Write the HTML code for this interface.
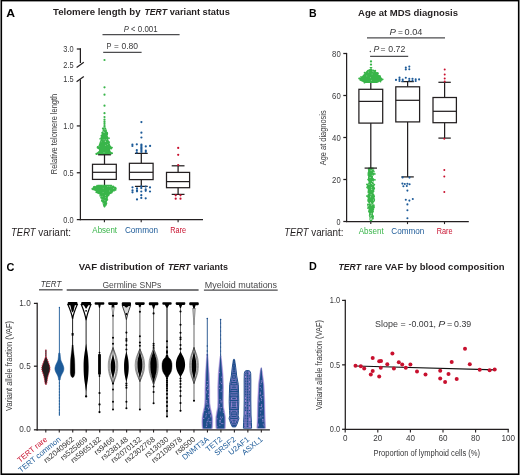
<!DOCTYPE html>
<html><head><meta charset="utf-8"><style>
html,body{margin:0;padding:0;background:#fff;overflow:hidden;}
svg{display:block;font-family:"Liberation Sans", sans-serif;will-change:transform;}
</style></head><body>
<svg width="520" height="476" viewBox="0 0 520 476">
<rect width="520" height="476" fill="#fff"/>
<rect x="1.3" y="0.6" width="517.4" height="473.6" fill="none" stroke="#000" stroke-width="1.6"/>
<text x="6.20" y="16.80" font-size="11" fill="#000" font-weight="bold" textLength="8.80" lengthAdjust="spacingAndGlyphs" >A</text>
<text x="53.00" y="15.40" font-size="9.4" fill="#231f20" font-weight="bold" textLength="87.60" lengthAdjust="spacingAndGlyphs" >Telomere length by</text>
<text x="144.40" y="15.40" font-size="9.4" fill="#231f20" font-weight="bold" font-style="italic" textLength="22.60" lengthAdjust="spacingAndGlyphs" >TERT</text>
<text x="169.70" y="15.40" font-size="9.4" fill="#231f20" font-weight="bold" textLength="60.10" lengthAdjust="spacingAndGlyphs" >variant status</text>
<line x1="102.50" y1="34.60" x2="179.60" y2="34.60" stroke="#4d4d4f" stroke-width="1.3" />
<text x="123.80" y="32.10" font-size="8.2" fill="#38383a" font-style="italic" textLength="5.10" lengthAdjust="spacingAndGlyphs" >P</text>
<text x="130.90" y="32.10" font-size="8.2" fill="#38383a" textLength="4.40" lengthAdjust="spacingAndGlyphs" >&lt;</text>
<text x="137.80" y="32.10" font-size="8.2" fill="#38383a" textLength="19.80" lengthAdjust="spacingAndGlyphs" >0.001</text>
<line x1="103.20" y1="52.40" x2="141.60" y2="52.40" stroke="#4d4d4f" stroke-width="1.3" />
<text x="106.50" y="48.90" font-size="8.2" fill="#38383a" textLength="5.00" lengthAdjust="spacingAndGlyphs" >P</text>
<text x="114.00" y="48.90" font-size="8.2" fill="#38383a" textLength="4.80" lengthAdjust="spacingAndGlyphs" >=</text>
<text x="121.40" y="48.90" font-size="8.2" fill="#38383a" textLength="16.60" lengthAdjust="spacingAndGlyphs" >0.80</text>
<line x1="80.40" y1="48.40" x2="80.40" y2="63.00" stroke="#231f20" stroke-width="1.25" />
<line x1="76.80" y1="49.00" x2="81.00" y2="49.00" stroke="#231f20" stroke-width="1.25" />
<line x1="76.60" y1="67.40" x2="83.80" y2="62.20" stroke="#231f20" stroke-width="1.25" />
<line x1="76.60" y1="81.70" x2="83.80" y2="76.60" stroke="#231f20" stroke-width="1.25" />
<line x1="80.40" y1="79.40" x2="80.40" y2="220.20" stroke="#231f20" stroke-width="1.25" />
<line x1="76.80" y1="125.93" x2="80.40" y2="125.93" stroke="#231f20" stroke-width="1.25" />
<line x1="76.80" y1="172.76" x2="80.40" y2="172.76" stroke="#231f20" stroke-width="1.25" />
<line x1="76.80" y1="219.60" x2="80.40" y2="219.60" stroke="#231f20" stroke-width="1.25" />
<text x="73.60" y="52.00" font-size="8.8" text-anchor="end" fill="#38383a" textLength="10.30" lengthAdjust="spacingAndGlyphs" >3.0</text>
<text x="73.60" y="67.70" font-size="8.8" text-anchor="end" fill="#38383a" textLength="10.30" lengthAdjust="spacingAndGlyphs" >2.5</text>
<text x="73.60" y="82.20" font-size="8.8" text-anchor="end" fill="#38383a" textLength="10.30" lengthAdjust="spacingAndGlyphs" >1.5</text>
<text x="73.60" y="128.93" font-size="8.8" text-anchor="end" fill="#38383a" textLength="10.30" lengthAdjust="spacingAndGlyphs" >1.0</text>
<text x="73.60" y="175.76" font-size="8.8" text-anchor="end" fill="#38383a" textLength="10.30" lengthAdjust="spacingAndGlyphs" >0.5</text>
<text x="73.60" y="222.60" font-size="8.8" text-anchor="end" fill="#38383a" textLength="10.30" lengthAdjust="spacingAndGlyphs" >0.0</text>
<line x1="79.80" y1="219.60" x2="203.00" y2="219.60" stroke="#231f20" stroke-width="1.25" />
<line x1="104.40" y1="219.60" x2="104.40" y2="222.20" stroke="#231f20" stroke-width="1.1" />
<line x1="141.20" y1="219.60" x2="141.20" y2="222.20" stroke="#231f20" stroke-width="1.1" />
<line x1="178.10" y1="219.60" x2="178.10" y2="222.20" stroke="#231f20" stroke-width="1.1" />
<text x="104.70" y="232.50" font-size="8.6" text-anchor="middle" fill="#39b54a" textLength="24.70" lengthAdjust="spacingAndGlyphs" >Absent</text>
<text x="141.50" y="232.50" font-size="8.6" text-anchor="middle" fill="#1c5a98" textLength="33.20" lengthAdjust="spacingAndGlyphs" >Common</text>
<text x="178.20" y="232.50" font-size="8.6" text-anchor="middle" fill="#c8102e" textLength="15.90" lengthAdjust="spacingAndGlyphs" >Rare</text>
<text x="11.10" y="235.50" font-size="10.8" fill="#231f20" font-style="italic" textLength="24.50" lengthAdjust="spacingAndGlyphs" >TERT</text>
<text x="38.20" y="235.50" font-size="10.8" fill="#231f20" textLength="32.90" lengthAdjust="spacingAndGlyphs" >variant:</text>
<text x="56.80" y="134.00" font-size="8.8" text-anchor="middle" fill="#38383a" textLength="80.30" lengthAdjust="spacingAndGlyphs" transform="rotate(-90 56.80 134.00)" >Relative telomere length</text>
<circle cx="104.50" cy="60.00" r="1.1" fill="#39b54a" />
<circle cx="104.50" cy="87.30" r="1.1" fill="#39b54a" />
<circle cx="104.50" cy="94.70" r="1.1" fill="#39b54a" />
<circle cx="104.50" cy="105.70" r="1.1" fill="#39b54a" />
<circle cx="104.50" cy="113.20" r="1.1" fill="#39b54a" />
<circle cx="104.50" cy="117.00" r="1.1" fill="#39b54a" />
<circle cx="104.50" cy="119.50" r="1.1" fill="#39b54a" />
<circle cx="104.50" cy="121.40" r="1.1" fill="#39b54a" />
<circle cx="104.50" cy="123.20" r="1.1" fill="#39b54a" />
<circle cx="104.50" cy="125.00" r="1.1" fill="#39b54a" />
<circle cx="104.50" cy="126.60" r="1.1" fill="#39b54a" />
<path d="M103.60,127.20 L102.70,128.40 L102.60,130.50 L102.30,132.00 L101.60,134.00 L101.30,136.00 L100.40,137.80 L100.70,139.50 L99.90,141.60 L99.30,143.50 L98.60,145.40 L96.90,147.20 L97.50,148.60 L98.90,149.60 L99.10,150.80 L97.30,152.20 L96.20,153.30 L96.90,154.30 L100.50,154.90 L108.50,154.90 L112.10,154.30 L112.80,153.30 L111.70,152.20 L109.90,150.80 L110.10,149.60 L111.50,148.60 L112.10,147.20 L110.40,145.40 L109.70,143.50 L109.10,141.60 L108.30,139.50 L108.60,137.80 L107.70,136.00 L107.40,134.00 L106.70,132.00 L106.40,130.50 L106.30,128.40 L105.40,127.20 Z" fill="#39b54a" />
<circle cx="105.95" cy="130.31" r="0.85" fill="#39b54a" />
<circle cx="102.71" cy="128.40" r="0.85" fill="#39b54a" />
<circle cx="97.61" cy="146.91" r="0.85" fill="#39b54a" />
<circle cx="97.57" cy="147.72" r="0.85" fill="#39b54a" />
<circle cx="109.22" cy="142.04" r="0.85" fill="#39b54a" />
<circle cx="102.46" cy="132.88" r="0.85" fill="#39b54a" />
<circle cx="111.30" cy="148.54" r="0.85" fill="#39b54a" />
<circle cx="106.82" cy="132.90" r="0.85" fill="#39b54a" />
<circle cx="96.25" cy="153.66" r="0.85" fill="#39b54a" />
<circle cx="100.12" cy="138.73" r="0.85" fill="#39b54a" />
<circle cx="109.51" cy="150.43" r="0.85" fill="#39b54a" />
<circle cx="105.99" cy="131.29" r="0.85" fill="#39b54a" />
<circle cx="112.06" cy="147.56" r="0.85" fill="#39b54a" />
<circle cx="107.34" cy="133.25" r="0.85" fill="#39b54a" />
<circle cx="102.17" cy="132.57" r="0.85" fill="#39b54a" />
<circle cx="107.24" cy="134.50" r="0.85" fill="#39b54a" />
<circle cx="108.99" cy="138.17" r="0.85" fill="#39b54a" />
<circle cx="96.59" cy="154.25" r="0.85" fill="#39b54a" />
<circle cx="101.33" cy="135.68" r="0.85" fill="#39b54a" />
<circle cx="112.13" cy="153.13" r="0.85" fill="#39b54a" />
<circle cx="107.05" cy="132.54" r="0.85" fill="#39b54a" />
<circle cx="104.87" cy="139.73" r="0.45" fill="#fff" opacity="0.6"/>
<circle cx="104.02" cy="152.80" r="0.45" fill="#fff" opacity="0.6"/>
<circle cx="105.14" cy="141.27" r="0.45" fill="#fff" opacity="0.6"/>
<circle cx="104.54" cy="132.32" r="0.45" fill="#fff" opacity="0.6"/>
<circle cx="107.33" cy="144.65" r="0.45" fill="#fff" opacity="0.6"/>
<circle cx="104.08" cy="129.81" r="0.45" fill="#fff" opacity="0.6"/>
<circle cx="105.16" cy="129.71" r="0.45" fill="#fff" opacity="0.6"/>
<circle cx="98.95" cy="146.41" r="0.45" fill="#fff" opacity="0.6"/>
<circle cx="110.23" cy="154.41" r="0.45" fill="#fff" opacity="0.6"/>
<circle cx="105.67" cy="145.31" r="0.45" fill="#fff" opacity="0.6"/>
<circle cx="103.23" cy="131.56" r="0.45" fill="#fff" opacity="0.6"/>
<circle cx="101.09" cy="141.84" r="0.45" fill="#fff" opacity="0.6"/>
<circle cx="103.69" cy="132.47" r="0.45" fill="#fff" opacity="0.6"/>
<circle cx="104.45" cy="128.03" r="0.45" fill="#fff" opacity="0.6"/>
<circle cx="106.57" cy="139.40" r="0.45" fill="#fff" opacity="0.6"/>
<circle cx="105.56" cy="141.58" r="0.45" fill="#fff" opacity="0.6"/>
<circle cx="105.67" cy="141.04" r="0.45" fill="#fff" opacity="0.6"/>
<circle cx="103.11" cy="139.87" r="0.45" fill="#fff" opacity="0.6"/>
<line x1="104.50" y1="154.80" x2="104.50" y2="164.30" stroke="#231f20" stroke-width="1.25" />
<line x1="104.50" y1="179.40" x2="104.50" y2="185.60" stroke="#231f20" stroke-width="1.25" />
<line x1="98.10" y1="154.80" x2="110.90" y2="154.80" stroke="#231f20" stroke-width="1.25" />
<line x1="98.10" y1="185.60" x2="110.90" y2="185.60" stroke="#231f20" stroke-width="1.25" />
<rect x="92.50" y="164.30" width="23.80" height="15.10" fill="#fff" stroke="#231f20" stroke-width="1.25"/>
<line x1="92.50" y1="172.30" x2="116.30" y2="172.30" stroke="#231f20" stroke-width="1.25" />
<path d="M97.80,184.80 L97.10,185.80 L92.90,187.00 L92.20,188.60 L92.90,190.00 L95.30,191.00 L96.10,192.00 L96.60,193.20 L99.50,194.40 L100.30,195.60 L101.10,197.00 L101.20,199.00 L101.90,201.00 L102.50,203.00 L103.00,205.20 L103.50,206.80 L104.10,207.40 L104.90,207.40 L105.50,206.80 L106.00,205.20 L106.50,203.00 L107.10,201.00 L107.80,199.00 L107.90,197.00 L108.70,195.60 L109.50,194.40 L112.40,193.20 L112.90,192.00 L113.70,191.00 L116.10,190.00 L116.80,188.60 L116.10,187.00 L111.90,185.80 L111.20,184.80 Z" fill="#39b54a" />
<circle cx="94.92" cy="186.55" r="0.85" fill="#39b54a" />
<circle cx="101.81" cy="200.58" r="0.85" fill="#39b54a" />
<circle cx="102.17" cy="201.08" r="0.85" fill="#39b54a" />
<circle cx="96.24" cy="192.27" r="0.85" fill="#39b54a" />
<circle cx="106.17" cy="204.73" r="0.85" fill="#39b54a" />
<circle cx="101.13" cy="197.06" r="0.85" fill="#39b54a" />
<circle cx="100.08" cy="195.77" r="0.85" fill="#39b54a" />
<circle cx="92.81" cy="189.36" r="0.85" fill="#39b54a" />
<circle cx="97.04" cy="185.59" r="0.85" fill="#39b54a" />
<circle cx="108.74" cy="194.72" r="0.85" fill="#39b54a" />
<circle cx="111.45" cy="185.66" r="0.85" fill="#39b54a" />
<circle cx="108.43" cy="195.38" r="0.85" fill="#39b54a" />
<circle cx="106.48" cy="203.20" r="0.85" fill="#39b54a" />
<circle cx="101.09" cy="197.81" r="0.85" fill="#39b54a" />
<circle cx="115.60" cy="189.98" r="0.85" fill="#39b54a" />
<circle cx="107.40" cy="199.78" r="0.85" fill="#39b54a" />
<circle cx="113.32" cy="186.37" r="0.85" fill="#39b54a" />
<circle cx="92.16" cy="188.87" r="0.85" fill="#39b54a" />
<circle cx="93.86" cy="186.85" r="0.85" fill="#39b54a" />
<circle cx="114.04" cy="190.67" r="0.85" fill="#39b54a" />
<circle cx="105.59" cy="195.53" r="0.45" fill="#fff" opacity="0.6"/>
<circle cx="102.93" cy="199.86" r="0.45" fill="#fff" opacity="0.6"/>
<circle cx="102.98" cy="185.05" r="0.45" fill="#fff" opacity="0.6"/>
<circle cx="109.72" cy="190.99" r="0.45" fill="#fff" opacity="0.6"/>
<circle cx="104.91" cy="200.41" r="0.45" fill="#fff" opacity="0.6"/>
<circle cx="105.33" cy="197.42" r="0.45" fill="#fff" opacity="0.6"/>
<circle cx="103.15" cy="188.08" r="0.45" fill="#fff" opacity="0.6"/>
<circle cx="113.79" cy="188.47" r="0.45" fill="#fff" opacity="0.6"/>
<circle cx="109.44" cy="186.13" r="0.45" fill="#fff" opacity="0.6"/>
<circle cx="107.87" cy="186.49" r="0.45" fill="#fff" opacity="0.6"/>
<circle cx="103.08" cy="192.42" r="0.45" fill="#fff" opacity="0.6"/>
<circle cx="103.53" cy="203.84" r="0.45" fill="#fff" opacity="0.6"/>
<circle cx="111.06" cy="186.17" r="0.45" fill="#fff" opacity="0.6"/>
<circle cx="102.05" cy="196.30" r="0.45" fill="#fff" opacity="0.6"/>
<line x1="141.30" y1="153.40" x2="141.30" y2="163.30" stroke="#231f20" stroke-width="1.25" />
<line x1="141.30" y1="179.60" x2="141.30" y2="186.40" stroke="#231f20" stroke-width="1.25" />
<line x1="134.90" y1="153.40" x2="147.70" y2="153.40" stroke="#231f20" stroke-width="1.25" />
<line x1="134.90" y1="186.40" x2="147.70" y2="186.40" stroke="#231f20" stroke-width="1.25" />
<rect x="129.40" y="163.30" width="23.70" height="16.30" fill="#fff" stroke="#231f20" stroke-width="1.25"/>
<line x1="129.40" y1="172.30" x2="153.10" y2="172.30" stroke="#231f20" stroke-width="1.25" />
<line x1="178.10" y1="165.80" x2="178.10" y2="172.40" stroke="#231f20" stroke-width="1.25" />
<line x1="178.10" y1="187.70" x2="178.10" y2="194.40" stroke="#231f20" stroke-width="1.25" />
<line x1="171.70" y1="165.80" x2="184.50" y2="165.80" stroke="#231f20" stroke-width="1.25" />
<line x1="171.70" y1="194.40" x2="184.50" y2="194.40" stroke="#231f20" stroke-width="1.25" />
<rect x="166.50" y="172.40" width="23.10" height="15.30" fill="#fff" stroke="#231f20" stroke-width="1.25"/>
<line x1="166.50" y1="181.60" x2="189.60" y2="181.60" stroke="#231f20" stroke-width="1.25" />
<circle cx="141.40" cy="122.10" r="1.1" fill="#1c5a98" />
<circle cx="141.40" cy="132.70" r="1.1" fill="#1c5a98" />
<circle cx="141.40" cy="137.50" r="1.1" fill="#1c5a98" />
<circle cx="132.40" cy="144.50" r="1.1" fill="#1c5a98" />
<circle cx="132.40" cy="146.00" r="1.1" fill="#1c5a98" />
<circle cx="136.80" cy="144.30" r="1.1" fill="#1c5a98" />
<circle cx="141.40" cy="144.50" r="1.1" fill="#1c5a98" />
<circle cx="141.40" cy="145.70" r="1.1" fill="#1c5a98" />
<circle cx="141.40" cy="147.00" r="1.1" fill="#1c5a98" />
<circle cx="141.40" cy="148.10" r="1.1" fill="#1c5a98" />
<circle cx="141.40" cy="149.20" r="1.1" fill="#1c5a98" />
<circle cx="141.40" cy="150.50" r="1.1" fill="#1c5a98" />
<circle cx="141.40" cy="151.90" r="1.1" fill="#1c5a98" />
<circle cx="136.80" cy="150.20" r="1.1" fill="#1c5a98" />
<circle cx="136.80" cy="152.40" r="1.1" fill="#1c5a98" />
<circle cx="145.80" cy="146.40" r="1.1" fill="#1c5a98" />
<circle cx="145.80" cy="150.50" r="1.1" fill="#1c5a98" />
<circle cx="145.80" cy="151.90" r="1.1" fill="#1c5a98" />
<circle cx="150.10" cy="145.90" r="1.1" fill="#1c5a98" />
<circle cx="132.50" cy="187.30" r="1.1" fill="#1c5a98" />
<circle cx="132.50" cy="190.40" r="1.1" fill="#1c5a98" />
<circle cx="132.50" cy="192.30" r="1.1" fill="#1c5a98" />
<circle cx="137.00" cy="188.40" r="1.1" fill="#1c5a98" />
<circle cx="137.00" cy="190.40" r="1.1" fill="#1c5a98" />
<circle cx="137.00" cy="191.30" r="1.1" fill="#1c5a98" />
<circle cx="141.30" cy="186.40" r="1.1" fill="#1c5a98" />
<circle cx="141.30" cy="188.10" r="1.1" fill="#1c5a98" />
<circle cx="141.30" cy="191.50" r="1.1" fill="#1c5a98" />
<circle cx="141.30" cy="195.20" r="1.1" fill="#1c5a98" />
<circle cx="141.30" cy="197.90" r="1.1" fill="#1c5a98" />
<circle cx="137.00" cy="199.40" r="1.1" fill="#1c5a98" />
<circle cx="145.70" cy="186.60" r="1.1" fill="#1c5a98" />
<circle cx="145.70" cy="189.40" r="1.1" fill="#1c5a98" />
<circle cx="145.70" cy="190.80" r="1.1" fill="#1c5a98" />
<circle cx="145.70" cy="198.30" r="1.1" fill="#1c5a98" />
<circle cx="150.00" cy="187.40" r="1.1" fill="#1c5a98" />
<circle cx="150.00" cy="191.50" r="1.1" fill="#1c5a98" />
<circle cx="178.20" cy="147.90" r="1.1" fill="#c8102e" />
<circle cx="178.20" cy="154.80" r="1.1" fill="#c8102e" />
<circle cx="178.20" cy="165.00" r="1.1" fill="#c8102e" />
<circle cx="175.70" cy="195.30" r="1.1" fill="#c8102e" />
<circle cx="180.50" cy="195.30" r="1.1" fill="#c8102e" />
<circle cx="175.70" cy="198.70" r="1.1" fill="#c8102e" />
<circle cx="180.50" cy="198.70" r="1.1" fill="#c8102e" />
<text x="309.00" y="16.70" font-size="11" fill="#000" font-weight="bold" textLength="7.60" lengthAdjust="spacingAndGlyphs" >B</text>
<text x="358.00" y="15.50" font-size="9.4" fill="#231f20" font-weight="bold" textLength="100.00" lengthAdjust="spacingAndGlyphs" >Age at MDS diagnosis</text>
<line x1="367.00" y1="37.90" x2="445.00" y2="37.90" stroke="#4d4d4f" stroke-width="1.3" />
<text x="389.50" y="34.70" font-size="8.2" fill="#38383a" font-style="italic" textLength="6.40" lengthAdjust="spacingAndGlyphs" >P</text>
<text x="398.00" y="34.70" font-size="8.2" fill="#38383a" textLength="4.90" lengthAdjust="spacingAndGlyphs" >=</text>
<text x="404.60" y="34.70" font-size="8.2" fill="#38383a" textLength="17.80" lengthAdjust="spacingAndGlyphs" >0.04</text>
<line x1="370.10" y1="56.30" x2="408.20" y2="56.30" stroke="#4d4d4f" stroke-width="1.3" />
<text x="373.40" y="52.00" font-size="8.2" fill="#38383a" font-style="italic" textLength="5.80" lengthAdjust="spacingAndGlyphs" >P</text>
<text x="380.60" y="52.00" font-size="8.2" fill="#38383a" textLength="5.00" lengthAdjust="spacingAndGlyphs" >=</text>
<text x="388.30" y="52.00" font-size="8.2" fill="#38383a" textLength="17.00" lengthAdjust="spacingAndGlyphs" >0.72</text>
<circle cx="370.30" cy="51.50" r="0.65" fill="#38383a" />
<line x1="346.60" y1="52.90" x2="346.60" y2="222.10" stroke="#231f20" stroke-width="1.25" />
<line x1="343.30" y1="53.50" x2="346.60" y2="53.50" stroke="#231f20" stroke-width="1.25" />
<text x="340.70" y="56.50" font-size="8.8" text-anchor="end" fill="#38383a" textLength="8.60" lengthAdjust="spacingAndGlyphs" >80</text>
<line x1="343.30" y1="95.50" x2="346.60" y2="95.50" stroke="#231f20" stroke-width="1.25" />
<text x="340.70" y="98.50" font-size="8.8" text-anchor="end" fill="#38383a" textLength="8.60" lengthAdjust="spacingAndGlyphs" >60</text>
<line x1="343.30" y1="137.50" x2="346.60" y2="137.50" stroke="#231f20" stroke-width="1.25" />
<text x="340.70" y="140.50" font-size="8.8" text-anchor="end" fill="#38383a" textLength="8.60" lengthAdjust="spacingAndGlyphs" >40</text>
<line x1="343.30" y1="179.50" x2="346.60" y2="179.50" stroke="#231f20" stroke-width="1.25" />
<text x="340.70" y="182.50" font-size="8.8" text-anchor="end" fill="#38383a" textLength="8.60" lengthAdjust="spacingAndGlyphs" >20</text>
<line x1="343.30" y1="221.50" x2="346.60" y2="221.50" stroke="#231f20" stroke-width="1.25" />
<text x="340.40" y="224.50" font-size="8.8" text-anchor="end" fill="#38383a" textLength="4.00" lengthAdjust="spacingAndGlyphs" >0</text>
<line x1="346.00" y1="221.50" x2="468.80" y2="221.50" stroke="#231f20" stroke-width="1.25" />
<line x1="370.80" y1="221.50" x2="370.80" y2="224.10" stroke="#231f20" stroke-width="1.1" />
<line x1="407.50" y1="221.50" x2="407.50" y2="224.10" stroke="#231f20" stroke-width="1.1" />
<line x1="444.50" y1="221.50" x2="444.50" y2="224.10" stroke="#231f20" stroke-width="1.1" />
<text x="371.20" y="233.50" font-size="8.6" text-anchor="middle" fill="#39b54a" textLength="25.00" lengthAdjust="spacingAndGlyphs" >Absent</text>
<text x="407.80" y="233.50" font-size="8.6" text-anchor="middle" fill="#1c5a98" textLength="33.00" lengthAdjust="spacingAndGlyphs" >Common</text>
<text x="444.60" y="233.50" font-size="8.6" text-anchor="middle" fill="#c8102e" textLength="15.80" lengthAdjust="spacingAndGlyphs" >Rare</text>
<text x="284.30" y="235.50" font-size="10.8" fill="#231f20" font-style="italic" textLength="24.30" lengthAdjust="spacingAndGlyphs" >TERT</text>
<text x="311.20" y="235.50" font-size="10.8" fill="#231f20" textLength="32.40" lengthAdjust="spacingAndGlyphs" >variant:</text>
<text x="325.60" y="137.80" font-size="8.8" text-anchor="middle" fill="#38383a" textLength="54.80" lengthAdjust="spacingAndGlyphs" transform="rotate(-90 325.60 137.80)" >Age at diagnosis</text>
<path d="M368.51,167.60 L367.74,169.30 L368.18,171.00 L367.59,172.70 L367.54,174.40 L368.94,176.10 L369.07,177.80 L367.01,179.50 L368.45,181.20 L368.51,182.90 L366.61,184.60 L367.92,186.30 L367.01,188.00 L367.91,189.70 L367.50,191.40 L368.72,193.10 L367.51,194.80 L366.93,196.50 L367.79,198.20 L367.25,199.90 L367.42,201.60 L368.94,203.30 L367.20,205.00 L367.62,206.70 L368.60,209.50 L368.00,211.50 L369.20,213.50 L368.80,215.50 L369.50,217.50 L369.40,219.50 L370.00,221.30 L372.00,221.30 L372.60,219.50 L372.50,217.50 L373.20,215.50 L372.80,213.50 L374.00,211.50 L373.40,209.50 L374.38,206.70 L374.80,205.00 L373.06,203.30 L374.58,201.60 L374.75,199.90 L374.21,198.20 L375.07,196.50 L374.49,194.80 L373.28,193.10 L374.50,191.40 L374.09,189.70 L374.99,188.00 L374.08,186.30 L375.39,184.60 L373.49,182.90 L373.55,181.20 L374.99,179.50 L372.93,177.80 L373.06,176.10 L374.46,174.40 L374.41,172.70 L373.82,171.00 L374.26,169.30 L373.49,167.60 Z" fill="#39b54a" />
<circle cx="366.77" cy="196.00" r="0.85" fill="#39b54a" />
<circle cx="372.88" cy="215.86" r="0.85" fill="#39b54a" />
<circle cx="373.00" cy="218.55" r="0.85" fill="#39b54a" />
<circle cx="368.12" cy="185.92" r="0.85" fill="#39b54a" />
<circle cx="367.62" cy="186.24" r="0.85" fill="#39b54a" />
<circle cx="367.80" cy="208.02" r="0.85" fill="#39b54a" />
<circle cx="367.04" cy="187.43" r="0.85" fill="#39b54a" />
<circle cx="372.23" cy="217.74" r="0.85" fill="#39b54a" />
<circle cx="366.88" cy="184.45" r="0.85" fill="#39b54a" />
<circle cx="368.99" cy="177.22" r="0.85" fill="#39b54a" />
<circle cx="374.31" cy="188.65" r="0.85" fill="#39b54a" />
<circle cx="367.85" cy="204.33" r="0.85" fill="#39b54a" />
<circle cx="373.70" cy="207.80" r="0.85" fill="#39b54a" />
<circle cx="374.85" cy="173.88" r="0.85" fill="#39b54a" />
<circle cx="368.71" cy="178.22" r="0.85" fill="#39b54a" />
<circle cx="373.37" cy="209.30" r="0.85" fill="#39b54a" />
<circle cx="372.77" cy="216.33" r="0.85" fill="#39b54a" />
<circle cx="368.34" cy="192.40" r="0.85" fill="#39b54a" />
<circle cx="368.41" cy="175.13" r="0.85" fill="#39b54a" />
<circle cx="373.89" cy="171.28" r="0.85" fill="#39b54a" />
<circle cx="374.31" cy="198.99" r="0.85" fill="#39b54a" />
<circle cx="374.96" cy="179.81" r="0.85" fill="#39b54a" />
<circle cx="373.17" cy="216.90" r="0.85" fill="#39b54a" />
<circle cx="374.18" cy="200.33" r="0.85" fill="#39b54a" />
<circle cx="374.12" cy="207.02" r="0.85" fill="#39b54a" />
<circle cx="368.78" cy="176.91" r="0.85" fill="#39b54a" />
<circle cx="370.44" cy="219.06" r="0.5" fill="#fff" opacity="0.7"/>
<circle cx="373.26" cy="168.87" r="0.5" fill="#fff" opacity="0.7"/>
<circle cx="370.12" cy="177.49" r="0.5" fill="#fff" opacity="0.7"/>
<circle cx="370.41" cy="202.58" r="0.5" fill="#fff" opacity="0.7"/>
<circle cx="370.26" cy="215.37" r="0.5" fill="#fff" opacity="0.7"/>
<circle cx="370.72" cy="219.12" r="0.5" fill="#fff" opacity="0.7"/>
<circle cx="373.55" cy="199.88" r="0.5" fill="#fff" opacity="0.7"/>
<circle cx="373.02" cy="204.40" r="0.5" fill="#fff" opacity="0.7"/>
<circle cx="368.43" cy="205.63" r="0.5" fill="#fff" opacity="0.7"/>
<circle cx="371.23" cy="214.93" r="0.5" fill="#fff" opacity="0.7"/>
<circle cx="369.00" cy="184.28" r="0.5" fill="#fff" opacity="0.7"/>
<circle cx="371.19" cy="213.23" r="0.5" fill="#fff" opacity="0.7"/>
<circle cx="371.40" cy="217.97" r="0.5" fill="#fff" opacity="0.7"/>
<circle cx="371.10" cy="219.22" r="0.5" fill="#fff" opacity="0.7"/>
<circle cx="371.67" cy="205.10" r="0.5" fill="#fff" opacity="0.7"/>
<circle cx="372.59" cy="181.48" r="0.5" fill="#fff" opacity="0.7"/>
<circle cx="372.88" cy="184.38" r="0.5" fill="#fff" opacity="0.7"/>
<circle cx="371.23" cy="218.86" r="0.5" fill="#fff" opacity="0.7"/>
<circle cx="372.28" cy="175.24" r="0.5" fill="#fff" opacity="0.7"/>
<circle cx="370.11" cy="203.44" r="0.5" fill="#fff" opacity="0.7"/>
<circle cx="371.14" cy="170.24" r="0.5" fill="#fff" opacity="0.7"/>
<circle cx="373.08" cy="169.33" r="0.5" fill="#fff" opacity="0.7"/>
<circle cx="371.09" cy="194.79" r="0.5" fill="#fff" opacity="0.7"/>
<circle cx="371.76" cy="189.59" r="0.5" fill="#fff" opacity="0.7"/>
<circle cx="370.64" cy="216.81" r="0.5" fill="#fff" opacity="0.7"/>
<circle cx="371.50" cy="187.67" r="0.5" fill="#fff" opacity="0.7"/>
<circle cx="371.47" cy="183.57" r="0.5" fill="#fff" opacity="0.7"/>
<circle cx="370.58" cy="196.77" r="0.5" fill="#fff" opacity="0.7"/>
<circle cx="371.10" cy="203.75" r="0.5" fill="#fff" opacity="0.7"/>
<circle cx="373.47" cy="172.33" r="0.5" fill="#fff" opacity="0.7"/>
<line x1="370.80" y1="82.00" x2="370.80" y2="89.30" stroke="#231f20" stroke-width="1.25" />
<line x1="370.80" y1="123.10" x2="370.80" y2="168.10" stroke="#231f20" stroke-width="1.25" />
<line x1="364.60" y1="82.00" x2="377.00" y2="82.00" stroke="#231f20" stroke-width="1.25" />
<line x1="364.60" y1="168.10" x2="377.00" y2="168.10" stroke="#231f20" stroke-width="1.25" />
<rect x="358.90" y="89.30" width="23.80" height="33.80" fill="#fff" stroke="#231f20" stroke-width="1.25"/>
<line x1="358.90" y1="101.40" x2="382.70" y2="101.40" stroke="#231f20" stroke-width="1.25" />
<circle cx="371.00" cy="61.40" r="1.15" fill="#39b54a" />
<circle cx="371.00" cy="64.60" r="1.15" fill="#39b54a" />
<path d="M369.4,66.9 L372.6,66.9 L371.0,69.2 Z" fill="#39b54a"/>
<path d="M370.20,68.80 L368.80,69.40 L367.40,70.00 L366.50,71.00 L365.50,72.10 L364.40,73.50 L363.30,74.80 L362.20,76.00 L360.60,77.50 L359.40,78.40 L360.20,78.90 L359.00,79.60 L359.60,80.50 L361.20,81.20 L362.40,81.80 L363.80,82.40 L365.00,82.90 L377.00,82.90 L378.20,82.40 L379.60,81.80 L380.80,81.20 L382.40,80.50 L383.00,79.60 L381.80,78.90 L382.60,78.40 L381.40,77.50 L379.80,76.00 L378.70,74.80 L377.60,73.50 L376.50,72.10 L375.50,71.00 L374.60,70.00 L373.20,69.40 L371.80,68.80 Z" fill="#39b54a" />
<circle cx="361.00" cy="76.84" r="0.85" fill="#39b54a" />
<circle cx="364.54" cy="72.71" r="0.85" fill="#39b54a" />
<circle cx="380.54" cy="81.56" r="0.85" fill="#39b54a" />
<circle cx="379.78" cy="76.25" r="0.85" fill="#39b54a" />
<circle cx="359.82" cy="78.29" r="0.85" fill="#39b54a" />
<circle cx="377.72" cy="73.16" r="0.85" fill="#39b54a" />
<circle cx="382.74" cy="79.28" r="0.85" fill="#39b54a" />
<circle cx="377.03" cy="72.75" r="0.85" fill="#39b54a" />
<circle cx="359.06" cy="78.41" r="0.85" fill="#39b54a" />
<circle cx="377.94" cy="73.30" r="0.85" fill="#39b54a" />
<circle cx="364.45" cy="82.77" r="0.85" fill="#39b54a" />
<circle cx="375.33" cy="70.54" r="0.85" fill="#39b54a" />
<circle cx="379.24" cy="76.03" r="0.85" fill="#39b54a" />
<circle cx="380.02" cy="76.20" r="0.85" fill="#39b54a" />
<circle cx="372.45" cy="71.13" r="0.45" fill="#fff" opacity="0.6"/>
<circle cx="370.58" cy="77.75" r="0.45" fill="#fff" opacity="0.6"/>
<circle cx="373.62" cy="71.85" r="0.45" fill="#fff" opacity="0.6"/>
<circle cx="371.27" cy="80.19" r="0.45" fill="#fff" opacity="0.6"/>
<circle cx="366.81" cy="75.92" r="0.45" fill="#fff" opacity="0.6"/>
<circle cx="372.07" cy="74.03" r="0.45" fill="#fff" opacity="0.6"/>
<circle cx="372.34" cy="69.78" r="0.45" fill="#fff" opacity="0.6"/>
<circle cx="368.50" cy="72.07" r="0.45" fill="#fff" opacity="0.6"/>
<circle cx="372.39" cy="69.40" r="0.45" fill="#fff" opacity="0.6"/>
<line x1="407.60" y1="81.60" x2="407.60" y2="86.80" stroke="#231f20" stroke-width="1.25" />
<line x1="407.60" y1="121.90" x2="407.60" y2="176.90" stroke="#231f20" stroke-width="1.25" />
<line x1="401.40" y1="81.60" x2="413.80" y2="81.60" stroke="#231f20" stroke-width="1.25" />
<line x1="401.40" y1="176.90" x2="413.80" y2="176.90" stroke="#231f20" stroke-width="1.25" />
<rect x="395.80" y="86.80" width="23.80" height="35.10" fill="#fff" stroke="#231f20" stroke-width="1.25"/>
<line x1="395.80" y1="100.30" x2="419.60" y2="100.30" stroke="#231f20" stroke-width="1.25" />
<line x1="444.60" y1="82.30" x2="444.60" y2="97.50" stroke="#231f20" stroke-width="1.25" />
<line x1="444.60" y1="122.70" x2="444.60" y2="138.10" stroke="#231f20" stroke-width="1.25" />
<line x1="438.40" y1="82.30" x2="450.80" y2="82.30" stroke="#231f20" stroke-width="1.25" />
<line x1="438.40" y1="138.10" x2="450.80" y2="138.10" stroke="#231f20" stroke-width="1.25" />
<rect x="433.00" y="97.50" width="23.40" height="25.20" fill="#fff" stroke="#231f20" stroke-width="1.25"/>
<line x1="433.00" y1="111.30" x2="456.40" y2="111.30" stroke="#231f20" stroke-width="1.25" />
<circle cx="405.80" cy="67.50" r="1.05" fill="#1c5a98" />
<circle cx="405.80" cy="69.40" r="1.05" fill="#1c5a98" />
<circle cx="409.30" cy="66.60" r="1.05" fill="#1c5a98" />
<circle cx="409.30" cy="69.30" r="1.05" fill="#1c5a98" />
<circle cx="396.00" cy="79.90" r="1.05" fill="#1c5a98" />
<circle cx="399.50" cy="77.60" r="1.05" fill="#1c5a98" />
<circle cx="399.50" cy="79.30" r="1.05" fill="#1c5a98" />
<circle cx="399.50" cy="81.00" r="1.05" fill="#1c5a98" />
<circle cx="402.70" cy="79.60" r="1.05" fill="#1c5a98" />
<circle cx="402.70" cy="81.00" r="1.05" fill="#1c5a98" />
<circle cx="405.80" cy="77.70" r="1.05" fill="#1c5a98" />
<circle cx="409.30" cy="78.70" r="1.05" fill="#1c5a98" />
<circle cx="409.30" cy="80.50" r="1.05" fill="#1c5a98" />
<circle cx="412.50" cy="78.70" r="1.05" fill="#1c5a98" />
<circle cx="412.50" cy="80.50" r="1.05" fill="#1c5a98" />
<circle cx="415.70" cy="79.30" r="1.05" fill="#1c5a98" />
<circle cx="415.70" cy="81.00" r="1.05" fill="#1c5a98" />
<circle cx="419.10" cy="79.40" r="1.05" fill="#1c5a98" />
<circle cx="402.60" cy="177.40" r="1.05" fill="#1c5a98" />
<circle cx="409.50" cy="177.60" r="1.05" fill="#1c5a98" />
<circle cx="402.40" cy="183.60" r="1.05" fill="#1c5a98" />
<circle cx="404.80" cy="184.00" r="1.05" fill="#1c5a98" />
<circle cx="407.40" cy="183.80" r="1.05" fill="#1c5a98" />
<circle cx="409.60" cy="184.20" r="1.05" fill="#1c5a98" />
<circle cx="403.40" cy="186.20" r="1.05" fill="#1c5a98" />
<circle cx="406.80" cy="186.00" r="1.05" fill="#1c5a98" />
<circle cx="407.40" cy="190.60" r="1.05" fill="#1c5a98" />
<circle cx="405.80" cy="199.80" r="1.05" fill="#1c5a98" />
<circle cx="409.40" cy="200.60" r="1.05" fill="#1c5a98" />
<circle cx="412.80" cy="199.00" r="1.05" fill="#1c5a98" />
<circle cx="407.40" cy="204.40" r="1.05" fill="#1c5a98" />
<circle cx="407.40" cy="210.30" r="1.05" fill="#1c5a98" />
<circle cx="407.40" cy="218.20" r="1.05" fill="#1c5a98" />
<circle cx="444.70" cy="69.60" r="1.0" fill="#c8102e" />
<circle cx="444.70" cy="74.60" r="1.0" fill="#c8102e" />
<circle cx="444.70" cy="78.60" r="1.0" fill="#c8102e" />
<circle cx="444.70" cy="81.40" r="1.0" fill="#c8102e" />
<circle cx="444.30" cy="138.80" r="1.0" fill="#c8102e" />
<circle cx="444.30" cy="170.00" r="1.0" fill="#c8102e" />
<circle cx="444.30" cy="176.40" r="1.0" fill="#c8102e" />
<circle cx="444.30" cy="191.90" r="1.0" fill="#c8102e" />
<text x="6.60" y="270.60" font-size="11" fill="#000" font-weight="bold" textLength="7.90" lengthAdjust="spacingAndGlyphs" >C</text>
<text x="78.70" y="270.00" font-size="9.4" fill="#231f20" font-weight="bold" textLength="85.50" lengthAdjust="spacingAndGlyphs" >VAF distribution of</text>
<text x="167.90" y="270.00" font-size="9.4" fill="#231f20" font-weight="bold" font-style="italic" textLength="22.50" lengthAdjust="spacingAndGlyphs" >TERT</text>
<text x="193.50" y="270.00" font-size="9.4" fill="#231f20" font-weight="bold" textLength="34.40" lengthAdjust="spacingAndGlyphs" >variants</text>
<text x="40.75" y="287.20" font-size="8.6" fill="#38383a" font-style="italic" textLength="20.50" lengthAdjust="spacingAndGlyphs" >TERT</text>
<line x1="39.00" y1="289.80" x2="62.60" y2="289.80" stroke="#4d4d4f" stroke-width="1.3" />
<text x="102.40" y="287.60" font-size="8.6" fill="#4a4a4c" textLength="58.90" lengthAdjust="spacingAndGlyphs" >Germline SNPs</text>
<line x1="66.70" y1="290.00" x2="198.60" y2="290.00" stroke="#4d4d4f" stroke-width="1.3" />
<text x="204.80" y="287.80" font-size="8.6" fill="#4a4a4c" textLength="72.30" lengthAdjust="spacingAndGlyphs" >Myeloid mutations</text>
<line x1="203.90" y1="290.20" x2="277.70" y2="290.20" stroke="#4d4d4f" stroke-width="1.3" />
<line x1="37.20" y1="302.80" x2="37.20" y2="430.40" stroke="#231f20" stroke-width="1.25" />
<line x1="33.90" y1="303.40" x2="37.20" y2="303.40" stroke="#231f20" stroke-width="1.25" />
<text x="30.70" y="306.40" font-size="8.8" text-anchor="end" fill="#38383a" textLength="11.40" lengthAdjust="spacingAndGlyphs" >1.0</text>
<line x1="33.90" y1="366.20" x2="37.20" y2="366.20" stroke="#231f20" stroke-width="1.25" />
<text x="30.70" y="369.20" font-size="8.8" text-anchor="end" fill="#38383a" textLength="11.40" lengthAdjust="spacingAndGlyphs" >0.5</text>
<line x1="33.90" y1="429.80" x2="37.20" y2="429.80" stroke="#231f20" stroke-width="1.25" />
<text x="30.70" y="432.00" font-size="8.8" text-anchor="end" fill="#38383a" textLength="11.40" lengthAdjust="spacingAndGlyphs" >0.0</text>
<line x1="36.60" y1="429.80" x2="269.90" y2="429.80" stroke="#231f20" stroke-width="1.25" />
<line x1="45.80" y1="429.80" x2="45.80" y2="432.60" stroke="#231f20" stroke-width="1.1" />
<line x1="59.27" y1="429.80" x2="59.27" y2="432.60" stroke="#231f20" stroke-width="1.1" />
<line x1="72.74" y1="429.80" x2="72.74" y2="432.60" stroke="#231f20" stroke-width="1.1" />
<line x1="86.21" y1="429.80" x2="86.21" y2="432.60" stroke="#231f20" stroke-width="1.1" />
<line x1="99.68" y1="429.80" x2="99.68" y2="432.60" stroke="#231f20" stroke-width="1.1" />
<line x1="113.15" y1="429.80" x2="113.15" y2="432.60" stroke="#231f20" stroke-width="1.1" />
<line x1="126.62" y1="429.80" x2="126.62" y2="432.60" stroke="#231f20" stroke-width="1.1" />
<line x1="140.09" y1="429.80" x2="140.09" y2="432.60" stroke="#231f20" stroke-width="1.1" />
<line x1="153.56" y1="429.80" x2="153.56" y2="432.60" stroke="#231f20" stroke-width="1.1" />
<line x1="167.03" y1="429.80" x2="167.03" y2="432.60" stroke="#231f20" stroke-width="1.1" />
<line x1="180.50" y1="429.80" x2="180.50" y2="432.60" stroke="#231f20" stroke-width="1.1" />
<line x1="193.97" y1="429.80" x2="193.97" y2="432.60" stroke="#231f20" stroke-width="1.1" />
<line x1="207.44" y1="429.80" x2="207.44" y2="432.60" stroke="#231f20" stroke-width="1.1" />
<line x1="220.91" y1="429.80" x2="220.91" y2="432.60" stroke="#231f20" stroke-width="1.1" />
<line x1="234.38" y1="429.80" x2="234.38" y2="432.60" stroke="#231f20" stroke-width="1.1" />
<line x1="247.85" y1="429.80" x2="247.85" y2="432.60" stroke="#231f20" stroke-width="1.1" />
<line x1="261.32" y1="429.80" x2="261.32" y2="432.60" stroke="#231f20" stroke-width="1.1" />
<text x="12.40" y="365.90" font-size="8.8" text-anchor="middle" fill="#38383a" textLength="90.00" lengthAdjust="spacingAndGlyphs" transform="rotate(-90 12.40 365.90)" >Variant allele fraction (VAF)</text>
<text x="47.80" y="440.30" font-size="7.75" text-anchor="end" fill="#c8102e" transform="rotate(-39 47.80 440.30)" >TERT rare</text>
<text x="61.27" y="440.30" font-size="7.75" text-anchor="end" fill="#1c5a98" transform="rotate(-39 61.27 440.30)" >TERT common</text>
<text x="74.74" y="440.30" font-size="7.75" text-anchor="end" fill="#333333" transform="rotate(-39 74.74 440.30)" >rs2040962</text>
<text x="88.21" y="440.30" font-size="7.75" text-anchor="end" fill="#333333" transform="rotate(-39 88.21 440.30)" >rs525869</text>
<text x="101.68" y="440.30" font-size="7.75" text-anchor="end" fill="#333333" transform="rotate(-39 101.68 440.30)" >rs5965182</text>
<text x="115.15" y="440.30" font-size="7.75" text-anchor="end" fill="#333333" transform="rotate(-39 115.15 440.30)" >rs9466</text>
<text x="128.62" y="440.30" font-size="7.75" text-anchor="end" fill="#333333" transform="rotate(-39 128.62 440.30)" >rs238148</text>
<text x="142.09" y="440.30" font-size="7.75" text-anchor="end" fill="#333333" transform="rotate(-39 142.09 440.30)" >rs2070132</text>
<text x="155.56" y="440.30" font-size="7.75" text-anchor="end" fill="#333333" transform="rotate(-39 155.56 440.30)" >rs2302768</text>
<text x="169.03" y="440.30" font-size="7.75" text-anchor="end" fill="#333333" transform="rotate(-39 169.03 440.30)" >rs13030</text>
<text x="182.50" y="440.30" font-size="7.75" text-anchor="end" fill="#333333" transform="rotate(-39 182.50 440.30)" >rs2108978</text>
<text x="195.97" y="440.30" font-size="7.75" text-anchor="end" fill="#333333" transform="rotate(-39 195.97 440.30)" >rs8500</text>
<text x="209.44" y="440.30" font-size="7.75" text-anchor="end" fill="#1c5a98" transform="rotate(-39 209.44 440.30)" >DNMT3A</text>
<text x="222.91" y="440.30" font-size="7.75" text-anchor="end" fill="#1c5a98" transform="rotate(-39 222.91 440.30)" >TET2</text>
<text x="236.38" y="440.30" font-size="7.75" text-anchor="end" fill="#1c5a98" transform="rotate(-39 236.38 440.30)" >SRSF2</text>
<text x="249.85" y="440.30" font-size="7.75" text-anchor="end" fill="#1c5a98" transform="rotate(-39 249.85 440.30)" >U2AF1</text>
<text x="263.32" y="440.30" font-size="7.75" text-anchor="end" fill="#1c5a98" transform="rotate(-39 263.32 440.30)" >ASXL1</text>
<line x1="45.90" y1="349.80" x2="45.90" y2="359.00" stroke="#231f20" stroke-width="1.0" />
<path d="M45.20,357.50 L44.70,359.00 L43.90,361.00 L43.20,363.00 L42.40,365.00 L41.90,367.00 L41.80,369.00 L42.10,371.00 L42.80,373.00 L43.50,375.00 L44.00,377.00 L44.40,379.00 L44.70,381.00 L45.00,383.00 L45.40,384.40 L46.40,384.40 L46.80,383.00 L47.10,381.00 L47.40,379.00 L47.80,377.00 L48.30,375.00 L49.00,373.00 L49.70,371.00 L50.00,369.00 L49.90,367.00 L49.40,365.00 L48.60,363.00 L47.90,361.00 L47.10,359.00 L46.60,357.50 Z" fill="#231f20" stroke="#c8102e" stroke-width="0.9" stroke-dasharray="1.2 0.8" stroke-linejoin="round"/>
<circle cx="45.90" cy="350.20" r="0.6" fill="#c8102e" />
<circle cx="45.90" cy="352.20" r="0.6" fill="#c8102e" />
<circle cx="45.90" cy="354.20" r="0.6" fill="#c8102e" />
<circle cx="45.90" cy="356.20" r="0.6" fill="#c8102e" />
<circle cx="45.90" cy="351.20" r="0.45" fill="#231f20" />
<circle cx="45.90" cy="353.20" r="0.45" fill="#231f20" />
<circle cx="45.90" cy="355.20" r="0.45" fill="#231f20" />
<line x1="59.40" y1="307.30" x2="59.40" y2="415.20" stroke="#1c5a98" stroke-width="0.9" />
<path d="M58.80,353.00 L58.40,357.00 L58.00,360.00 L57.20,362.00 L56.20,364.00 L55.40,366.00 L54.90,368.00 L55.00,370.00 L55.70,372.00 L56.80,374.00 L57.80,376.00 L58.40,378.00 L58.70,380.00 L60.10,380.00 L60.40,378.00 L61.00,376.00 L62.00,374.00 L63.10,372.00 L63.80,370.00 L63.90,368.00 L63.40,366.00 L62.60,364.00 L61.60,362.00 L60.80,360.00 L60.40,357.00 L60.00,353.00 Z" fill="#1c5a98" stroke="#1c5a98" stroke-width="0.5" stroke-linejoin="round"/>
<circle cx="59.40" cy="307.50" r="0.65" fill="#1c5a98" />
<circle cx="59.40" cy="355.00" r="0.65" fill="#1c5a98" />
<circle cx="59.40" cy="383.00" r="0.65" fill="#1c5a98" />
<circle cx="59.40" cy="386.00" r="0.65" fill="#1c5a98" />
<circle cx="59.40" cy="389.00" r="0.65" fill="#1c5a98" />
<circle cx="59.40" cy="392.00" r="0.65" fill="#1c5a98" />
<circle cx="59.40" cy="395.00" r="0.65" fill="#1c5a98" />
<circle cx="59.40" cy="398.00" r="0.65" fill="#1c5a98" />
<circle cx="59.40" cy="401.00" r="0.65" fill="#1c5a98" />
<circle cx="59.40" cy="404.00" r="0.65" fill="#1c5a98" />
<circle cx="59.40" cy="407.00" r="0.65" fill="#1c5a98" />
<circle cx="59.40" cy="410.00" r="0.65" fill="#1c5a98" />
<circle cx="59.40" cy="413.00" r="0.65" fill="#1c5a98" />
<circle cx="59.40" cy="415.00" r="0.65" fill="#1c5a98" />
<path d="M67.90,304.50 Q71.70,313.15 72.60,318.80 Q73.50,313.15 77.30,304.50 Z" fill="#fff" stroke="#000" stroke-width="1.2"/>
<path d="M70.20,304.5 L75.00,304.5 L73.60,311.0 L72.60,312.6 L71.60,311.0 Z" fill="#000"/>
<path d="M68.40,301.90 L76.80,301.90 Q77.60,301.90 77.60,303.55 Q77.60,305.20 76.40,305.20 L74.10,305.20 L73.10,306.00 L72.10,306.00 L71.10,305.20 L68.80,305.20 Q67.60,305.20 67.60,303.55 Q67.60,301.90 68.40,301.90 Z" fill="#000"/>
<line x1="72.60" y1="318.50" x2="72.60" y2="356.00" stroke="#222" stroke-width="1.0" />
<rect x="71.60" y="333.0" width="2.0" height="2.6" fill="#000"/>
<path d="M72.10,345.00 L71.70,350.00 L71.10,355.00 L70.60,359.40 L70.40,364.00 L70.30,370.00 L70.30,373.00 L70.70,375.30 L71.40,376.70 L72.10,377.40 L73.10,377.40 L73.80,376.70 L74.50,375.30 L74.90,373.00 L74.90,370.00 L74.80,364.00 L74.60,359.40 L74.10,355.00 L73.50,350.00 L73.10,345.00 Z" fill="#000" stroke="#000" stroke-width="0.3" stroke-linejoin="round"/>
<path d="M81.30,304.50 Q85.20,313.85 86.10,320.20 Q87.00,313.85 90.90,304.50 Z" fill="#fff" stroke="#000" stroke-width="1.2"/>
<path d="M83.50,304.5 L88.70,304.5 L86.50,308.4 L85.70,308.4 Z" fill="#000"/>
<circle cx="86.10" cy="310.80" r="0.9" fill="#000" />
<path d="M81.90,301.90 L90.30,301.90 Q91.10,301.90 91.10,303.55 Q91.10,305.20 89.90,305.20 L87.60,305.20 L86.60,306.00 L85.60,306.00 L84.60,305.20 L82.30,305.20 Q81.10,305.20 81.10,303.55 Q81.10,301.90 81.90,301.90 Z" fill="#000"/>
<line x1="86.10" y1="320.00" x2="86.10" y2="396.50" stroke="#222" stroke-width="1.0" />
<path d="M86.10,343.50 C87.35,351.73 88.60,356.44 88.60,367.02 C88.60,378.04 87.35,382.93 86.10,391.50 C84.85,382.93 83.60,378.04 83.60,367.02 C83.60,356.44 84.85,351.73 86.10,343.50 Z" fill="#000" stroke="none" stroke-width="0" />
<circle cx="86.10" cy="396.40" r="1.15" fill="#000" />
<line x1="99.50" y1="304.00" x2="99.50" y2="412.50" stroke="#555" stroke-width="0.9" />
<path d="M95.40,302.20 L103.60,302.20 Q104.40,302.20 104.40,303.45 Q104.40,304.70 103.20,304.70 L100.70,304.70 L100.00,307.70 L99.00,307.70 L98.30,304.70 L95.80,304.70 Q94.60,304.70 94.60,303.45 Q94.60,302.20 95.40,302.20 Z" fill="#000"/>
<rect x="98.10" y="353.9" width="2.8" height="20.8" rx="0.8" fill="#000"/>
<circle cx="99.50" cy="352.60" r="0.9" fill="#000" />
<circle cx="99.50" cy="376.00" r="0.9" fill="#000" />
<circle cx="99.50" cy="393.00" r="1.1" fill="#000" />
<circle cx="99.50" cy="404.40" r="1.1" fill="#000" />
<circle cx="99.50" cy="412.10" r="1.1" fill="#000" />
<line x1="113.00" y1="304.00" x2="113.00" y2="410.00" stroke="#555" stroke-width="0.9" />
<path d="M111.40,306 L114.60,306 L113.00,315 Z" fill="#c8c8c8" stroke="#666" stroke-width="0.5"/>
<path d="M108.95,302.20 L117.05,302.20 Q117.85,302.20 117.85,303.55 Q117.85,304.90 116.65,304.90 L114.40,304.90 L113.50,307.70 L112.50,307.70 L111.60,304.90 L109.35,304.90 Q108.15,304.90 108.15,303.55 Q108.15,302.20 108.95,302.20 Z" fill="#000"/>
<circle cx="113.00" cy="315.80" r="1.0" fill="#000" />
<circle cx="113.00" cy="337.80" r="1.05" fill="#000" />
<circle cx="113.00" cy="343.80" r="1.05" fill="#000" />
<path d="M113.00,347.60 C115.38,354.00 117.75,357.67 117.75,365.90 C117.75,374.13 115.38,377.79 113.00,384.20 C110.62,377.79 108.25,374.13 108.25,365.90 C108.25,357.67 110.62,354.00 113.00,347.60 Z" fill="none" stroke="#333" stroke-width="0.45"/>
<path d="M113.00,347.60 C114.95,354.00 116.90,357.67 116.90,365.90 C116.90,374.13 114.95,377.79 113.00,384.20 C111.05,377.79 109.10,374.13 109.10,365.90 C109.10,357.67 111.05,354.00 113.00,347.60 Z" fill="none" stroke="#333" stroke-width="0.45"/>
<path d="M113.00,347.60 C114.55,354.00 116.10,357.67 116.10,365.90 C116.10,374.13 114.55,377.79 113.00,384.20 C111.45,377.79 109.90,374.13 109.90,365.90 C109.90,357.67 111.45,354.00 113.00,347.60 Z" fill="none" stroke="#333" stroke-width="0.45"/>
<path d="M113.00,354.50 C114.15,358.70 115.30,361.10 115.30,366.50 C115.30,371.90 114.15,374.30 113.00,378.50 C111.85,374.30 110.70,371.90 110.70,366.50 C110.70,361.10 111.85,358.70 113.00,354.50 Z" fill="#000" stroke="none" stroke-width="0" />
<circle cx="113.00" cy="383.50" r="1.0" fill="#000" />
<circle cx="113.00" cy="389.50" r="1.0" fill="#000" />
<circle cx="113.00" cy="401.80" r="1.0" fill="#000" />
<circle cx="113.00" cy="409.50" r="1.0" fill="#000" />
<line x1="126.40" y1="304.00" x2="126.40" y2="408.50" stroke="#555" stroke-width="0.9" />
<path d="M122.20,305.50 Q125.50,314.00 126.40,319.50 Q127.30,314.00 130.60,305.50 Z" fill="#d8d8d8" stroke="#222" stroke-width="0.9"/>
<path d="M122.50,302.20 L130.30,302.20 Q131.10,302.20 131.10,304.10 Q131.10,306.00 129.90,306.00 L128.60,306.00 L126.90,307.50 L125.90,307.50 L124.20,306.00 L122.90,306.00 Q121.70,306.00 121.70,304.10 Q121.70,302.20 122.50,302.20 Z" fill="#000"/>
<circle cx="126.40" cy="314.10" r="1.05" fill="#000" />
<circle cx="126.40" cy="332.60" r="1.05" fill="#000" />
<circle cx="126.40" cy="339.00" r="1.05" fill="#000" />
<circle cx="126.40" cy="340.70" r="1.05" fill="#000" />
<circle cx="126.40" cy="345.10" r="1.05" fill="#000" />
<circle cx="126.40" cy="349.50" r="1.05" fill="#000" />
<circle cx="126.40" cy="383.50" r="1.05" fill="#000" />
<circle cx="126.40" cy="385.50" r="1.05" fill="#000" />
<circle cx="126.40" cy="387.70" r="1.05" fill="#000" />
<circle cx="126.40" cy="401.80" r="1.05" fill="#000" />
<circle cx="126.40" cy="408.30" r="1.05" fill="#000" />
<path d="M126.40,351.00 C127.58,356.51 128.75,359.66 128.75,366.75 C128.75,373.84 127.58,376.99 126.40,382.50 C125.23,376.99 124.05,373.84 124.05,366.75 C124.05,359.66 125.23,356.51 126.40,351.00 Z" fill="#000" stroke="none" stroke-width="0" />
<line x1="139.90" y1="304.00" x2="139.90" y2="409.50" stroke="#555" stroke-width="0.9" />
<path d="M138.50,306 L141.30,306 L139.90,312 Z" fill="#c8c8c8"/>
<path d="M135.85,302.20 L143.95,302.20 Q144.75,302.20 144.75,303.55 Q144.75,304.90 143.55,304.90 L141.30,304.90 L140.40,307.20 L139.40,307.20 L138.50,304.90 L136.25,304.90 Q135.05,304.90 135.05,303.55 Q135.05,302.20 135.85,302.20 Z" fill="#000"/>
<circle cx="139.90" cy="311.80" r="1.05" fill="#000" />
<circle cx="139.90" cy="336.30" r="1.0" fill="#000" />
<circle cx="139.90" cy="342.60" r="1.0" fill="#000" />
<circle cx="139.90" cy="345.70" r="1.0" fill="#000" />
<circle cx="139.90" cy="409.50" r="1.0" fill="#000" />
<path d="M139.90,348.90 C142.28,354.60 144.65,357.87 144.65,365.20 C144.65,372.53 142.28,375.80 139.90,381.50 C137.53,375.80 135.15,372.53 135.15,365.20 C135.15,357.87 137.53,354.60 139.90,348.90 Z" fill="none" stroke="#333" stroke-width="0.45"/>
<path d="M139.90,348.90 C141.85,354.60 143.80,357.87 143.80,365.20 C143.80,372.53 141.85,375.80 139.90,381.50 C137.95,375.80 136.00,372.53 136.00,365.20 C136.00,357.87 137.95,354.60 139.90,348.90 Z" fill="none" stroke="#333" stroke-width="0.45"/>
<path d="M139.90,348.90 C141.45,354.60 143.00,357.87 143.00,365.20 C143.00,372.53 141.45,375.80 139.90,381.50 C138.35,375.80 136.80,372.53 136.80,365.20 C136.80,357.87 138.35,354.60 139.90,348.90 Z" fill="none" stroke="#333" stroke-width="0.45"/>
<path d="M139.90,351.40 C141.15,356.06 142.40,358.71 142.40,364.70 C142.40,370.69 141.15,373.34 139.90,378.00 C138.65,373.34 137.40,370.69 137.40,364.70 C137.40,358.71 138.65,356.06 139.90,351.40 Z" fill="#000" stroke="none" stroke-width="0" />
<line x1="153.60" y1="304.00" x2="153.60" y2="403.50" stroke="#555" stroke-width="0.9" />
<path d="M149.55,302.20 L157.65,302.20 Q158.45,302.20 158.45,303.75 Q158.45,305.30 157.25,305.30 L155.20,305.30 L154.10,308.80 L153.10,308.80 L152.00,305.30 L149.95,305.30 Q148.75,305.30 148.75,303.75 Q148.75,302.20 149.55,302.20 Z" fill="#000"/>
<circle cx="153.60" cy="313.40" r="1.05" fill="#000" />
<circle cx="153.60" cy="343.80" r="1.05" fill="#000" />
<circle cx="153.60" cy="345.70" r="1.05" fill="#000" />
<circle cx="153.60" cy="348.00" r="1.05" fill="#000" />
<circle cx="153.60" cy="386.50" r="1.05" fill="#000" />
<circle cx="153.60" cy="392.00" r="1.05" fill="#000" />
<circle cx="153.60" cy="403.30" r="1.05" fill="#000" />
<path d="M153.60,348.50 C155.95,354.42 158.30,357.81 158.30,365.42 C158.30,374.01 155.95,377.82 153.60,384.50 C151.25,377.82 148.90,374.01 148.90,365.42 C148.90,357.81 151.25,354.42 153.60,348.50 Z" fill="none" stroke="#333" stroke-width="0.45"/>
<path d="M153.60,348.50 C155.55,354.42 157.50,357.81 157.50,365.42 C157.50,374.01 155.55,377.82 153.60,384.50 C151.65,377.82 149.70,374.01 149.70,365.42 C149.70,357.81 151.65,354.42 153.60,348.50 Z" fill="none" stroke="#333" stroke-width="0.45"/>
<path d="M153.60,348.50 C155.20,354.42 156.80,357.81 156.80,365.42 C156.80,374.01 155.20,377.82 153.60,384.50 C152.00,377.82 150.40,374.01 150.40,365.42 C150.40,357.81 152.00,354.42 153.60,348.50 Z" fill="none" stroke="#333" stroke-width="0.45"/>
<path d="M153.60,350.50 C155.20,355.62 156.80,358.54 156.80,365.12 C156.80,373.17 155.20,376.74 153.60,383.00 C152.00,376.74 150.40,373.17 150.40,365.12 C150.40,358.54 152.00,355.62 153.60,350.50 Z" fill="#000" stroke="none" stroke-width="0" />
<line x1="167.00" y1="304.00" x2="167.00" y2="416.70" stroke="#111" stroke-width="1.1" />
<path d="M163.10,302.20 L170.90,302.20 Q171.70,302.20 171.70,303.50 Q171.70,304.80 170.50,304.80 L169.20,304.80 L167.50,307.70 L166.50,307.70 L164.80,304.80 L163.50,304.80 Q162.30,304.80 162.30,303.50 Q162.30,302.20 163.10,302.20 Z" fill="#000"/>
<circle cx="167.00" cy="341.30" r="1.05" fill="#000" />
<circle cx="167.00" cy="347.30" r="1.05" fill="#000" />
<circle cx="167.00" cy="351.30" r="1.05" fill="#000" />
<circle cx="167.00" cy="352.70" r="1.05" fill="#000" />
<circle cx="167.00" cy="355.80" r="1.05" fill="#000" />
<circle cx="167.00" cy="378.50" r="1.05" fill="#000" />
<circle cx="167.00" cy="380.50" r="1.05" fill="#000" />
<circle cx="167.00" cy="382.30" r="1.05" fill="#000" />
<circle cx="167.00" cy="384.20" r="1.05" fill="#000" />
<circle cx="167.00" cy="386.00" r="1.05" fill="#000" />
<circle cx="167.00" cy="388.30" r="1.05" fill="#000" />
<circle cx="167.00" cy="390.50" r="1.05" fill="#000" />
<circle cx="167.00" cy="394.00" r="1.05" fill="#000" />
<circle cx="167.00" cy="398.00" r="1.05" fill="#000" />
<circle cx="167.00" cy="402.00" r="1.05" fill="#000" />
<circle cx="167.00" cy="406.00" r="1.05" fill="#000" />
<circle cx="167.00" cy="411.00" r="1.05" fill="#000" />
<circle cx="167.00" cy="416.50" r="1.05" fill="#000" />
<path d="M166.40,355.00 L165.40,357.50 L163.80,359.00 L162.70,361.00 L162.10,363.30 L162.00,366.00 L162.20,369.00 L162.80,371.50 L163.80,373.50 L165.20,375.50 L166.10,377.50 L167.90,377.50 L168.80,375.50 L170.20,373.50 L171.20,371.50 L171.80,369.00 L172.00,366.00 L171.90,363.30 L171.30,361.00 L170.20,359.00 L168.60,357.50 L167.60,355.00 Z" fill="#000" stroke="#000" stroke-width="0.4" stroke-linejoin="round"/>
<line x1="180.50" y1="304.00" x2="180.50" y2="411.30" stroke="#555" stroke-width="0.9" />
<path d="M176.45,302.20 L184.55,302.20 Q185.35,302.20 185.35,303.55 Q185.35,304.90 184.15,304.90 L182.10,304.90 L181.00,308.00 L180.00,308.00 L178.90,304.90 L176.85,304.90 Q175.65,304.90 175.65,303.55 Q175.65,302.20 176.45,302.20 Z" fill="#000"/>
<circle cx="180.50" cy="311.50" r="1.05" fill="#000" />
<circle cx="180.50" cy="324.70" r="1.05" fill="#000" />
<circle cx="180.50" cy="332.70" r="1.05" fill="#000" />
<circle cx="180.50" cy="337.50" r="1.05" fill="#000" />
<circle cx="180.50" cy="339.30" r="1.05" fill="#000" />
<circle cx="180.50" cy="345.00" r="1.05" fill="#000" />
<circle cx="180.50" cy="348.90" r="1.05" fill="#000" />
<circle cx="180.50" cy="378.50" r="1.05" fill="#000" />
<circle cx="180.50" cy="381.00" r="1.05" fill="#000" />
<circle cx="180.50" cy="384.00" r="1.05" fill="#000" />
<circle cx="180.50" cy="387.00" r="1.05" fill="#000" />
<circle cx="180.50" cy="391.00" r="1.05" fill="#000" />
<circle cx="180.50" cy="396.00" r="1.05" fill="#000" />
<circle cx="180.50" cy="403.00" r="1.05" fill="#000" />
<circle cx="180.50" cy="410.80" r="1.05" fill="#000" />
<path d="M180.50,351.50 C182.80,356.05 185.10,358.65 185.10,364.50 C185.10,370.35 182.80,372.95 180.50,377.50 C178.20,372.95 175.90,370.35 175.90,364.50 C175.90,358.65 178.20,356.05 180.50,351.50 Z" fill="#000" stroke="none" stroke-width="0" />
<line x1="194.00" y1="304.00" x2="194.00" y2="400.70" stroke="#555" stroke-width="0.9" />
<path d="M189.95,302.20 L198.05,302.20 Q198.85,302.20 198.85,303.75 Q198.85,305.30 197.65,305.30 L195.60,305.30 L194.50,308.80 L193.50,308.80 L192.40,305.30 L190.35,305.30 Q189.15,305.30 189.15,303.75 Q189.15,302.20 189.95,302.20 Z" fill="#000"/>
<path d="M192.40,308 Q193.60,318 194.00,325 Q194.40,318 195.60,308" fill="none" stroke="#777" stroke-width="0.6"/>
<path d="M194.00,347.50 C196.22,353.80 198.45,357.40 198.45,365.50 C198.45,373.60 196.22,377.20 194.00,383.50 C191.78,377.20 189.55,373.60 189.55,365.50 C189.55,357.40 191.78,353.80 194.00,347.50 Z" fill="none" stroke="#333" stroke-width="0.45"/>
<path d="M194.00,347.50 C195.80,353.80 197.60,357.40 197.60,365.50 C197.60,373.60 195.80,377.20 194.00,383.50 C192.20,377.20 190.40,373.60 190.40,365.50 C190.40,357.40 192.20,353.80 194.00,347.50 Z" fill="none" stroke="#333" stroke-width="0.45"/>
<path d="M194.00,347.50 C195.45,353.80 196.90,357.40 196.90,365.50 C196.90,373.60 195.45,377.20 194.00,383.50 C192.55,377.20 191.10,373.60 191.10,365.50 C191.10,357.40 192.55,353.80 194.00,347.50 Z" fill="none" stroke="#333" stroke-width="0.45"/>
<path d="M194.00,351.50 C195.15,356.49 196.30,359.34 196.30,365.75 C196.30,372.16 195.15,375.01 194.00,380.00 C192.85,375.01 191.70,372.16 191.70,365.75 C191.70,359.34 192.85,356.49 194.00,351.50 Z" fill="#000" stroke="none" stroke-width="0" />
<circle cx="194.00" cy="400.70" r="1.05" fill="#000" />
<line x1="207.30" y1="318.50" x2="207.30" y2="355.00" stroke="#1d4e8a" stroke-width="0.9"/>
<circle cx="207.30" cy="318.50" r="0.8" fill="#1d4e8a" />
<path d="M206.80,354.00 L206.30,361.00 L205.90,367.00 L205.40,374.00 L205.10,382.00 L204.90,390.00 L204.90,397.00 L204.70,403.00 L204.20,407.00 L203.40,410.50 L202.60,414.00 L202.00,418.00 L201.90,422.00 L202.00,426.00 L202.30,428.40 L212.30,428.40 L212.60,426.00 L212.70,422.00 L212.60,418.00 L212.00,414.00 L211.20,410.50 L210.40,407.00 L209.90,403.00 L209.70,397.00 L209.70,390.00 L209.50,382.00 L209.20,374.00 L208.70,367.00 L208.30,361.00 L207.80,354.00 Z" fill="#9884d2" stroke="#9884d2" stroke-width="0.4" stroke-linejoin="round"/>
<path d="M207.03,354.00 L206.75,361.00 L206.53,367.00 L206.26,374.00 L206.00,382.00 L205.80,390.00 L205.80,397.00 L205.60,403.00 L205.10,407.00 L204.30,410.50 L203.50,414.00 L202.90,418.00 L202.80,422.00 L202.90,426.00 L203.20,428.40 L211.40,428.40 L211.70,426.00 L211.80,422.00 L211.70,418.00 L211.10,414.00 L210.30,410.50 L209.50,407.00 L209.00,403.00 L208.80,397.00 L208.80,390.00 L208.60,382.00 L208.34,374.00 L208.07,367.00 L207.85,361.00 L207.58,354.00 Z" fill="#1d4e8a"/>
<rect x="206.73" y="381.10" width="1.0" height="1.0" fill="#9884d2"/>
<rect x="206.73" y="384.30" width="1.0" height="1.0" fill="#9884d2"/>
<rect x="206.89" y="384.30" width="1.0" height="1.0" fill="#9884d2"/>
<rect x="206.17" y="385.90" width="1.0" height="1.0" fill="#9884d2"/>
<rect x="207.76" y="387.50" width="1.0" height="1.0" fill="#9884d2"/>
<rect x="207.51" y="389.10" width="1.0" height="1.0" fill="#9884d2"/>
<rect x="207.08" y="389.10" width="1.0" height="1.0" fill="#9884d2"/>
<rect x="205.60" y="390.70" width="1.0" height="1.0" fill="#9884d2"/>
<rect x="206.12" y="392.30" width="1.0" height="1.0" fill="#9884d2"/>
<rect x="207.91" y="393.90" width="1.0" height="1.0" fill="#9884d2"/>
<rect x="207.88" y="397.10" width="1.0" height="1.0" fill="#9884d2"/>
<rect x="206.43" y="400.30" width="1.0" height="1.0" fill="#9884d2"/>
<rect x="205.86" y="400.30" width="1.0" height="1.0" fill="#9884d2"/>
<rect x="206.25" y="401.90" width="1.0" height="1.0" fill="#9884d2"/>
<rect x="207.34" y="403.50" width="1.0" height="1.0" fill="#9884d2"/>
<rect x="206.22" y="403.50" width="1.0" height="1.0" fill="#9884d2"/>
<rect x="206.73" y="406.70" width="1.0" height="1.0" fill="#9884d2"/>
<rect x="208.65" y="406.70" width="1.0" height="1.0" fill="#9884d2"/>
<rect x="207.95" y="408.30" width="1.0" height="1.0" fill="#9884d2"/>
<rect x="208.13" y="408.30" width="1.0" height="1.0" fill="#9884d2"/>
<rect x="204.37" y="409.90" width="1.0" height="1.0" fill="#9884d2"/>
<rect x="209.57" y="411.50" width="1.0" height="1.0" fill="#9884d2"/>
<rect x="208.36" y="411.50" width="1.0" height="1.0" fill="#9884d2"/>
<rect x="205.81" y="413.10" width="1.0" height="1.0" fill="#9884d2"/>
<rect x="208.49" y="413.10" width="1.0" height="1.0" fill="#9884d2"/>
<rect x="210.08" y="414.70" width="1.0" height="1.0" fill="#9884d2"/>
<rect x="205.63" y="414.70" width="1.0" height="1.0" fill="#9884d2"/>
<rect x="210.13" y="416.30" width="1.0" height="1.0" fill="#9884d2"/>
<rect x="205.36" y="416.30" width="1.0" height="1.0" fill="#9884d2"/>
<rect x="203.33" y="417.90" width="1.0" height="1.0" fill="#9884d2"/>
<rect x="208.36" y="417.90" width="1.0" height="1.0" fill="#9884d2"/>
<rect x="203.09" y="417.90" width="1.0" height="1.0" fill="#9884d2"/>
<rect x="207.58" y="419.50" width="1.0" height="1.0" fill="#9884d2"/>
<rect x="210.29" y="421.10" width="1.0" height="1.0" fill="#9884d2"/>
<rect x="206.75" y="421.10" width="1.0" height="1.0" fill="#9884d2"/>
<rect x="208.74" y="421.10" width="1.0" height="1.0" fill="#9884d2"/>
<rect x="206.25" y="422.70" width="1.0" height="1.0" fill="#9884d2"/>
<rect x="209.68" y="422.70" width="1.0" height="1.0" fill="#9884d2"/>
<rect x="206.41" y="424.30" width="1.0" height="1.0" fill="#9884d2"/>
<rect x="206.02" y="425.90" width="1.0" height="1.0" fill="#9884d2"/>
<rect x="205.80" y="425.90" width="1.0" height="1.0" fill="#9884d2"/>
<circle cx="207.30" cy="346.00" r="0.7" fill="#1d4e8a" />
<circle cx="207.30" cy="351.00" r="0.7" fill="#1d4e8a" />
<circle cx="207.30" cy="355.00" r="0.7" fill="#1d4e8a" />
<line x1="220.60" y1="319.50" x2="220.60" y2="357.00" stroke="#1d4e8a" stroke-width="0.9"/>
<circle cx="220.60" cy="319.50" r="0.8" fill="#1d4e8a" />
<path d="M220.10,356.00 L219.50,361.00 L219.00,366.00 L218.20,374.00 L217.70,387.00 L217.80,400.00 L217.60,407.00 L216.60,412.00 L215.80,417.00 L215.70,422.00 L215.90,428.40 L225.30,428.40 L225.50,422.00 L225.40,417.00 L224.60,412.00 L223.60,407.00 L223.40,400.00 L223.50,387.00 L223.00,374.00 L222.20,366.00 L221.70,361.00 L221.10,356.00 Z" fill="#9884d2" stroke="#9884d2" stroke-width="0.4" stroke-linejoin="round"/>
<path d="M220.32,356.00 L220.00,361.00 L219.72,366.00 L219.10,374.00 L218.60,387.00 L218.70,400.00 L218.50,407.00 L217.50,412.00 L216.70,417.00 L216.60,422.00 L216.80,428.40 L224.40,428.40 L224.60,422.00 L224.50,417.00 L223.70,412.00 L222.70,407.00 L222.50,400.00 L222.60,387.00 L222.10,374.00 L221.48,366.00 L221.20,361.00 L220.88,356.00 Z" fill="#1d4e8a"/>
<rect x="219.06" y="371.90" width="1.0" height="1.0" fill="#9884d2"/>
<rect x="220.90" y="376.70" width="1.0" height="1.0" fill="#9884d2"/>
<rect x="220.26" y="381.50" width="1.0" height="1.0" fill="#9884d2"/>
<rect x="221.05" y="383.10" width="1.0" height="1.0" fill="#9884d2"/>
<rect x="218.77" y="384.70" width="1.0" height="1.0" fill="#9884d2"/>
<rect x="219.08" y="387.90" width="1.0" height="1.0" fill="#9884d2"/>
<rect x="221.61" y="389.50" width="1.0" height="1.0" fill="#9884d2"/>
<rect x="220.62" y="391.10" width="1.0" height="1.0" fill="#9884d2"/>
<rect x="219.66" y="399.10" width="1.0" height="1.0" fill="#9884d2"/>
<rect x="220.39" y="400.70" width="1.0" height="1.0" fill="#9884d2"/>
<rect x="221.34" y="400.70" width="1.0" height="1.0" fill="#9884d2"/>
<rect x="220.65" y="402.30" width="1.0" height="1.0" fill="#9884d2"/>
<rect x="219.05" y="403.90" width="1.0" height="1.0" fill="#9884d2"/>
<rect x="219.07" y="405.50" width="1.0" height="1.0" fill="#9884d2"/>
<rect x="221.17" y="407.10" width="1.0" height="1.0" fill="#9884d2"/>
<rect x="219.46" y="407.10" width="1.0" height="1.0" fill="#9884d2"/>
<rect x="219.55" y="408.70" width="1.0" height="1.0" fill="#9884d2"/>
<rect x="222.66" y="410.30" width="1.0" height="1.0" fill="#9884d2"/>
<rect x="219.71" y="410.30" width="1.0" height="1.0" fill="#9884d2"/>
<rect x="222.85" y="411.90" width="1.0" height="1.0" fill="#9884d2"/>
<rect x="221.88" y="416.70" width="1.0" height="1.0" fill="#9884d2"/>
<rect x="220.01" y="416.70" width="1.0" height="1.0" fill="#9884d2"/>
<rect x="216.62" y="418.30" width="1.0" height="1.0" fill="#9884d2"/>
<rect x="220.75" y="418.30" width="1.0" height="1.0" fill="#9884d2"/>
<rect x="219.74" y="419.90" width="1.0" height="1.0" fill="#9884d2"/>
<rect x="219.44" y="419.90" width="1.0" height="1.0" fill="#9884d2"/>
<rect x="219.91" y="421.50" width="1.0" height="1.0" fill="#9884d2"/>
<rect x="219.19" y="421.50" width="1.0" height="1.0" fill="#9884d2"/>
<rect x="222.32" y="423.10" width="1.0" height="1.0" fill="#9884d2"/>
<rect x="221.26" y="423.10" width="1.0" height="1.0" fill="#9884d2"/>
<rect x="219.37" y="424.70" width="1.0" height="1.0" fill="#9884d2"/>
<rect x="216.59" y="426.30" width="1.0" height="1.0" fill="#9884d2"/>
<circle cx="220.60" cy="323.00" r="0.6" fill="#1d4e8a" />
<circle cx="220.60" cy="327.00" r="0.6" fill="#1d4e8a" />
<circle cx="220.60" cy="331.00" r="0.6" fill="#1d4e8a" />
<circle cx="220.60" cy="335.00" r="0.6" fill="#1d4e8a" />
<circle cx="220.60" cy="339.00" r="0.6" fill="#1d4e8a" />
<circle cx="220.60" cy="343.00" r="0.6" fill="#1d4e8a" />
<circle cx="220.60" cy="347.00" r="0.6" fill="#1d4e8a" />
<circle cx="220.60" cy="351.00" r="0.6" fill="#1d4e8a" />
<circle cx="220.60" cy="355.00" r="0.6" fill="#1d4e8a" />
<path d="M233.70,359.30 L233.10,362.00 L232.30,367.20 L231.30,375.90 L229.70,384.50 L229.40,393.10 L229.20,401.70 L229.50,410.30 L229.80,415.50 L229.10,418.50 L229.70,420.50 L231.00,424.10 L232.40,426.90 L235.60,426.90 L237.00,424.10 L238.30,420.50 L238.90,418.50 L238.20,415.50 L238.50,410.30 L238.80,401.70 L238.60,393.10 L238.30,384.50 L236.70,375.90 L235.70,367.20 L234.90,362.00 L234.30,359.30 Z" fill="#9884d2" stroke="#1d4e8a" stroke-width="1.0" stroke-linejoin="round"/>
<rect x="233.66" y="360.20" width="0.69" height="1.2" fill="#1d4e8a"/>
<rect x="234.22" y="359.90" width="0.9" height="1.8" fill="#1d4e8a"/>
<rect x="232.88" y="359.90" width="0.9" height="1.8" fill="#1d4e8a"/>
<rect x="233.56" y="362.00" width="0.87" height="1.2" fill="#1d4e8a"/>
<rect x="233.86" y="361.70" width="0.9" height="1.8" fill="#1d4e8a"/>
<rect x="233.24" y="361.70" width="0.9" height="1.8" fill="#1d4e8a"/>
<rect x="233.06" y="363.80" width="1.88" height="1.2" fill="#1d4e8a"/>
<rect x="233.58" y="363.50" width="0.9" height="1.8" fill="#1d4e8a"/>
<rect x="233.52" y="363.50" width="0.9" height="1.8" fill="#1d4e8a"/>
<rect x="233.39" y="365.60" width="1.22" height="1.2" fill="#1d4e8a"/>
<rect x="233.30" y="365.30" width="0.9" height="1.8" fill="#1d4e8a"/>
<rect x="233.80" y="365.30" width="0.9" height="1.8" fill="#1d4e8a"/>
<rect x="232.80" y="367.40" width="2.41" height="1.2" fill="#1d4e8a"/>
<rect x="233.06" y="367.10" width="0.9" height="1.8" fill="#1d4e8a"/>
<rect x="234.04" y="367.10" width="0.9" height="1.8" fill="#1d4e8a"/>
<rect x="232.86" y="369.20" width="2.28" height="1.2" fill="#1d4e8a"/>
<rect x="232.85" y="368.90" width="0.9" height="1.8" fill="#1d4e8a"/>
<rect x="234.25" y="368.90" width="0.9" height="1.8" fill="#1d4e8a"/>
<rect x="233.15" y="371.00" width="1.70" height="1.2" fill="#1d4e8a"/>
<rect x="232.64" y="370.70" width="0.9" height="1.8" fill="#1d4e8a"/>
<rect x="234.46" y="370.70" width="0.9" height="1.8" fill="#1d4e8a"/>
<rect x="232.42" y="372.80" width="3.16" height="1.2" fill="#1d4e8a"/>
<rect x="232.44" y="372.50" width="0.9" height="1.8" fill="#1d4e8a"/>
<rect x="234.66" y="372.50" width="0.9" height="1.8" fill="#1d4e8a"/>
<rect x="233.02" y="374.60" width="1.95" height="1.2" fill="#1d4e8a"/>
<rect x="232.23" y="374.30" width="0.9" height="1.8" fill="#1d4e8a"/>
<rect x="234.87" y="374.30" width="0.9" height="1.8" fill="#1d4e8a"/>
<rect x="232.23" y="376.40" width="3.54" height="1.2" fill="#1d4e8a"/>
<rect x="231.95" y="376.10" width="0.9" height="1.8" fill="#1d4e8a"/>
<rect x="235.15" y="376.10" width="0.9" height="1.8" fill="#1d4e8a"/>
<rect x="232.73" y="378.20" width="2.54" height="1.2" fill="#1d4e8a"/>
<rect x="231.61" y="377.90" width="0.9" height="1.8" fill="#1d4e8a"/>
<rect x="235.49" y="377.90" width="0.9" height="1.8" fill="#1d4e8a"/>
<rect x="232.55" y="380.00" width="2.89" height="1.2" fill="#1d4e8a"/>
<rect x="231.28" y="379.70" width="0.9" height="1.8" fill="#1d4e8a"/>
<rect x="235.82" y="379.70" width="0.9" height="1.8" fill="#1d4e8a"/>
<rect x="231.64" y="381.80" width="4.73" height="1.2" fill="#1d4e8a"/>
<rect x="230.94" y="381.50" width="0.9" height="1.8" fill="#1d4e8a"/>
<rect x="236.16" y="381.50" width="0.9" height="1.8" fill="#1d4e8a"/>
<rect x="230.41" y="383.60" width="7.18" height="1.2" fill="#1d4e8a"/>
<rect x="230.61" y="383.30" width="0.9" height="1.8" fill="#1d4e8a"/>
<rect x="236.49" y="383.30" width="0.9" height="1.8" fill="#1d4e8a"/>
<rect x="232.15" y="385.40" width="3.69" height="1.2" fill="#1d4e8a"/>
<rect x="230.50" y="385.10" width="0.9" height="1.8" fill="#1d4e8a"/>
<rect x="236.60" y="385.10" width="0.9" height="1.8" fill="#1d4e8a"/>
<rect x="231.86" y="387.20" width="4.27" height="1.2" fill="#1d4e8a"/>
<rect x="230.43" y="386.90" width="0.9" height="1.8" fill="#1d4e8a"/>
<rect x="236.67" y="386.90" width="0.9" height="1.8" fill="#1d4e8a"/>
<rect x="230.75" y="389.00" width="6.51" height="1.2" fill="#1d4e8a"/>
<rect x="230.37" y="388.70" width="0.9" height="1.8" fill="#1d4e8a"/>
<rect x="236.73" y="388.70" width="0.9" height="1.8" fill="#1d4e8a"/>
<rect x="229.83" y="390.80" width="8.34" height="1.2" fill="#1d4e8a"/>
<rect x="230.31" y="390.50" width="0.9" height="1.8" fill="#1d4e8a"/>
<rect x="236.79" y="390.50" width="0.9" height="1.8" fill="#1d4e8a"/>
<rect x="230.80" y="392.60" width="6.41" height="1.2" fill="#1d4e8a"/>
<rect x="230.25" y="392.30" width="0.9" height="1.8" fill="#1d4e8a"/>
<rect x="236.85" y="392.30" width="0.9" height="1.8" fill="#1d4e8a"/>
<rect x="231.27" y="394.40" width="5.46" height="1.2" fill="#1d4e8a"/>
<rect x="230.21" y="394.10" width="0.9" height="1.8" fill="#1d4e8a"/>
<rect x="236.89" y="394.10" width="0.9" height="1.8" fill="#1d4e8a"/>
<rect x="229.62" y="396.20" width="8.77" height="1.2" fill="#1d4e8a"/>
<rect x="230.16" y="395.90" width="0.9" height="1.8" fill="#1d4e8a"/>
<rect x="236.94" y="395.90" width="0.9" height="1.8" fill="#1d4e8a"/>
<rect x="232.21" y="398.00" width="3.57" height="1.2" fill="#1d4e8a"/>
<rect x="230.12" y="397.70" width="0.9" height="1.8" fill="#1d4e8a"/>
<rect x="236.98" y="397.70" width="0.9" height="1.8" fill="#1d4e8a"/>
<rect x="229.87" y="399.80" width="8.25" height="1.2" fill="#1d4e8a"/>
<rect x="230.08" y="399.50" width="0.9" height="1.8" fill="#1d4e8a"/>
<rect x="237.02" y="399.50" width="0.9" height="1.8" fill="#1d4e8a"/>
<rect x="231.50" y="401.60" width="5.01" height="1.2" fill="#1d4e8a"/>
<rect x="230.07" y="401.30" width="0.9" height="1.8" fill="#1d4e8a"/>
<rect x="237.03" y="401.30" width="0.9" height="1.8" fill="#1d4e8a"/>
<rect x="231.94" y="403.40" width="4.12" height="1.2" fill="#1d4e8a"/>
<rect x="230.13" y="403.10" width="0.9" height="1.8" fill="#1d4e8a"/>
<rect x="236.97" y="403.10" width="0.9" height="1.8" fill="#1d4e8a"/>
<rect x="232.04" y="405.20" width="3.92" height="1.2" fill="#1d4e8a"/>
<rect x="230.19" y="404.90" width="0.9" height="1.8" fill="#1d4e8a"/>
<rect x="236.91" y="404.90" width="0.9" height="1.8" fill="#1d4e8a"/>
<rect x="231.54" y="407.00" width="4.92" height="1.2" fill="#1d4e8a"/>
<rect x="230.26" y="406.70" width="0.9" height="1.8" fill="#1d4e8a"/>
<rect x="236.84" y="406.70" width="0.9" height="1.8" fill="#1d4e8a"/>
<rect x="230.20" y="408.80" width="7.61" height="1.2" fill="#1d4e8a"/>
<rect x="230.32" y="408.50" width="0.9" height="1.8" fill="#1d4e8a"/>
<rect x="236.78" y="408.50" width="0.9" height="1.8" fill="#1d4e8a"/>
<rect x="231.96" y="410.60" width="4.08" height="1.2" fill="#1d4e8a"/>
<rect x="230.40" y="410.30" width="0.9" height="1.8" fill="#1d4e8a"/>
<rect x="236.70" y="410.30" width="0.9" height="1.8" fill="#1d4e8a"/>
<rect x="230.96" y="412.40" width="6.07" height="1.2" fill="#1d4e8a"/>
<rect x="230.51" y="412.10" width="0.9" height="1.8" fill="#1d4e8a"/>
<rect x="236.59" y="412.10" width="0.9" height="1.8" fill="#1d4e8a"/>
<rect x="230.89" y="414.20" width="6.22" height="1.2" fill="#1d4e8a"/>
<rect x="230.61" y="413.90" width="0.9" height="1.8" fill="#1d4e8a"/>
<rect x="236.49" y="413.90" width="0.9" height="1.8" fill="#1d4e8a"/>
<rect x="231.44" y="416.00" width="5.11" height="1.2" fill="#1d4e8a"/>
<rect x="230.39" y="415.70" width="0.9" height="1.8" fill="#1d4e8a"/>
<rect x="236.71" y="415.70" width="0.9" height="1.8" fill="#1d4e8a"/>
<rect x="230.69" y="417.80" width="6.62" height="1.2" fill="#1d4e8a"/>
<rect x="229.97" y="417.50" width="0.9" height="1.8" fill="#1d4e8a"/>
<rect x="237.13" y="417.50" width="0.9" height="1.8" fill="#1d4e8a"/>
<rect x="232.30" y="419.60" width="3.40" height="1.2" fill="#1d4e8a"/>
<rect x="230.46" y="419.30" width="0.9" height="1.8" fill="#1d4e8a"/>
<rect x="236.64" y="419.30" width="0.9" height="1.8" fill="#1d4e8a"/>
<rect x="232.55" y="421.40" width="2.90" height="1.2" fill="#1d4e8a"/>
<rect x="231.09" y="421.10" width="0.9" height="1.8" fill="#1d4e8a"/>
<rect x="236.01" y="421.10" width="0.9" height="1.8" fill="#1d4e8a"/>
<rect x="232.53" y="423.20" width="2.94" height="1.2" fill="#1d4e8a"/>
<rect x="231.74" y="422.90" width="0.9" height="1.8" fill="#1d4e8a"/>
<rect x="235.36" y="422.90" width="0.9" height="1.8" fill="#1d4e8a"/>
<rect x="232.29" y="425.00" width="3.41" height="1.2" fill="#1d4e8a"/>
<rect x="232.60" y="424.70" width="0.9" height="1.8" fill="#1d4e8a"/>
<rect x="234.50" y="424.70" width="0.9" height="1.8" fill="#1d4e8a"/>
<path d="M246.20,370.60 L244.90,371.40 L244.30,373.50 L244.15,380.00 L244.20,400.00 L244.00,415.00 L243.60,422.40 L243.40,428.20 L251.60,428.20 L251.40,422.40 L251.00,415.00 L250.80,400.00 L250.85,380.00 L250.70,373.50 L250.10,371.40 L248.80,370.60 Z" fill="#9884d2" stroke="#1d4e8a" stroke-width="1.0" stroke-linejoin="round"/>
<rect x="246.50" y="371.30" width="2.0" height="1.4" fill="#1d4e8a"/>
<rect x="245.60" y="371.50" width="1.0" height="1.2" fill="#1d4e8a"/>
<rect x="246.50" y="372.90" width="2.0" height="1.4" fill="#1d4e8a"/>
<rect x="245.20" y="373.10" width="1.0" height="1.2" fill="#1d4e8a"/>
<rect x="246.50" y="374.50" width="2.0" height="1.4" fill="#1d4e8a"/>
<rect x="245.16" y="374.70" width="1.0" height="1.2" fill="#1d4e8a"/>
<rect x="248.84" y="374.70" width="1.0" height="1.2" fill="#1d4e8a"/>
<rect x="246.50" y="376.10" width="2.0" height="1.4" fill="#1d4e8a"/>
<rect x="248.88" y="376.30" width="1.0" height="1.2" fill="#1d4e8a"/>
<rect x="246.50" y="377.70" width="2.0" height="1.4" fill="#1d4e8a"/>
<rect x="245.08" y="377.90" width="1.0" height="1.2" fill="#1d4e8a"/>
<rect x="248.92" y="377.90" width="1.0" height="1.2" fill="#1d4e8a"/>
<rect x="246.50" y="379.30" width="2.0" height="1.4" fill="#1d4e8a"/>
<rect x="245.05" y="379.50" width="1.0" height="1.2" fill="#1d4e8a"/>
<rect x="248.95" y="379.50" width="1.0" height="1.2" fill="#1d4e8a"/>
<rect x="246.50" y="380.90" width="2.0" height="1.4" fill="#1d4e8a"/>
<rect x="245.05" y="381.10" width="1.0" height="1.2" fill="#1d4e8a"/>
<rect x="246.50" y="382.50" width="2.0" height="1.4" fill="#1d4e8a"/>
<rect x="245.06" y="382.70" width="1.0" height="1.2" fill="#1d4e8a"/>
<rect x="248.94" y="382.70" width="1.0" height="1.2" fill="#1d4e8a"/>
<rect x="246.50" y="384.10" width="2.0" height="1.4" fill="#1d4e8a"/>
<rect x="245.06" y="384.30" width="1.0" height="1.2" fill="#1d4e8a"/>
<rect x="248.94" y="384.30" width="1.0" height="1.2" fill="#1d4e8a"/>
<rect x="246.50" y="385.70" width="2.0" height="1.4" fill="#1d4e8a"/>
<rect x="245.07" y="385.90" width="1.0" height="1.2" fill="#1d4e8a"/>
<rect x="246.50" y="387.30" width="2.0" height="1.4" fill="#1d4e8a"/>
<rect x="245.07" y="387.50" width="1.0" height="1.2" fill="#1d4e8a"/>
<rect x="248.93" y="387.50" width="1.0" height="1.2" fill="#1d4e8a"/>
<rect x="246.50" y="388.90" width="2.0" height="1.4" fill="#1d4e8a"/>
<rect x="245.07" y="389.10" width="1.0" height="1.2" fill="#1d4e8a"/>
<rect x="246.50" y="390.50" width="2.0" height="1.4" fill="#1d4e8a"/>
<rect x="245.08" y="390.70" width="1.0" height="1.2" fill="#1d4e8a"/>
<rect x="248.92" y="390.70" width="1.0" height="1.2" fill="#1d4e8a"/>
<rect x="246.50" y="392.10" width="2.0" height="1.4" fill="#1d4e8a"/>
<rect x="245.08" y="392.30" width="1.0" height="1.2" fill="#1d4e8a"/>
<rect x="248.92" y="392.30" width="1.0" height="1.2" fill="#1d4e8a"/>
<rect x="246.50" y="393.70" width="2.0" height="1.4" fill="#1d4e8a"/>
<rect x="245.09" y="393.90" width="1.0" height="1.2" fill="#1d4e8a"/>
<rect x="248.91" y="393.90" width="1.0" height="1.2" fill="#1d4e8a"/>
<rect x="246.50" y="395.30" width="2.0" height="1.4" fill="#1d4e8a"/>
<rect x="245.09" y="395.50" width="1.0" height="1.2" fill="#1d4e8a"/>
<rect x="248.91" y="395.50" width="1.0" height="1.2" fill="#1d4e8a"/>
<rect x="246.50" y="396.90" width="2.0" height="1.4" fill="#1d4e8a"/>
<rect x="248.91" y="397.10" width="1.0" height="1.2" fill="#1d4e8a"/>
<rect x="246.50" y="398.50" width="2.0" height="1.4" fill="#1d4e8a"/>
<rect x="245.10" y="398.70" width="1.0" height="1.2" fill="#1d4e8a"/>
<rect x="248.90" y="398.70" width="1.0" height="1.2" fill="#1d4e8a"/>
<rect x="246.50" y="400.10" width="2.0" height="1.4" fill="#1d4e8a"/>
<rect x="248.91" y="400.30" width="1.0" height="1.2" fill="#1d4e8a"/>
<rect x="246.50" y="401.70" width="2.0" height="1.4" fill="#1d4e8a"/>
<rect x="245.07" y="401.90" width="1.0" height="1.2" fill="#1d4e8a"/>
<rect x="246.50" y="403.30" width="2.0" height="1.4" fill="#1d4e8a"/>
<rect x="245.05" y="403.50" width="1.0" height="1.2" fill="#1d4e8a"/>
<rect x="246.50" y="404.90" width="2.0" height="1.4" fill="#1d4e8a"/>
<rect x="248.98" y="405.10" width="1.0" height="1.2" fill="#1d4e8a"/>
<rect x="246.50" y="406.50" width="2.0" height="1.4" fill="#1d4e8a"/>
<rect x="245.00" y="406.70" width="1.0" height="1.2" fill="#1d4e8a"/>
<rect x="246.50" y="408.10" width="2.0" height="1.4" fill="#1d4e8a"/>
<rect x="244.98" y="408.30" width="1.0" height="1.2" fill="#1d4e8a"/>
<rect x="246.50" y="409.70" width="2.0" height="1.4" fill="#1d4e8a"/>
<rect x="244.96" y="409.90" width="1.0" height="1.2" fill="#1d4e8a"/>
<rect x="249.04" y="409.90" width="1.0" height="1.2" fill="#1d4e8a"/>
<rect x="246.50" y="411.30" width="2.0" height="1.4" fill="#1d4e8a"/>
<rect x="246.50" y="412.90" width="2.0" height="1.4" fill="#1d4e8a"/>
<rect x="249.08" y="413.10" width="1.0" height="1.2" fill="#1d4e8a"/>
<rect x="246.50" y="414.50" width="2.0" height="1.4" fill="#1d4e8a"/>
<rect x="244.88" y="414.70" width="1.0" height="1.2" fill="#1d4e8a"/>
<rect x="249.12" y="414.70" width="1.0" height="1.2" fill="#1d4e8a"/>
<rect x="246.50" y="416.10" width="2.0" height="1.4" fill="#1d4e8a"/>
<rect x="244.80" y="416.30" width="1.0" height="1.2" fill="#1d4e8a"/>
<rect x="249.20" y="416.30" width="1.0" height="1.2" fill="#1d4e8a"/>
<rect x="246.50" y="417.70" width="2.0" height="1.4" fill="#1d4e8a"/>
<rect x="244.71" y="417.90" width="1.0" height="1.2" fill="#1d4e8a"/>
<rect x="246.50" y="419.30" width="2.0" height="1.4" fill="#1d4e8a"/>
<rect x="244.62" y="419.50" width="1.0" height="1.2" fill="#1d4e8a"/>
<rect x="246.50" y="420.90" width="2.0" height="1.4" fill="#1d4e8a"/>
<rect x="244.54" y="421.10" width="1.0" height="1.2" fill="#1d4e8a"/>
<rect x="249.46" y="421.10" width="1.0" height="1.2" fill="#1d4e8a"/>
<rect x="246.50" y="422.50" width="2.0" height="1.4" fill="#1d4e8a"/>
<rect x="244.47" y="422.70" width="1.0" height="1.2" fill="#1d4e8a"/>
<rect x="249.53" y="422.70" width="1.0" height="1.2" fill="#1d4e8a"/>
<rect x="246.50" y="424.10" width="2.0" height="1.4" fill="#1d4e8a"/>
<rect x="244.41" y="424.30" width="1.0" height="1.2" fill="#1d4e8a"/>
<rect x="249.59" y="424.30" width="1.0" height="1.2" fill="#1d4e8a"/>
<rect x="246.50" y="425.70" width="2.0" height="1.4" fill="#1d4e8a"/>
<rect x="244.36" y="425.90" width="1.0" height="1.2" fill="#1d4e8a"/>
<path d="M260.90,367.80 L260.20,371.00 L259.50,375.90 L258.40,384.50 L257.60,401.70 L257.20,419.00 L256.80,428.20 L265.60,428.20 L265.20,419.00 L264.80,401.70 L264.00,384.50 L262.90,375.90 L262.20,371.00 L261.50,367.80 Z" fill="#9884d2" stroke="#9884d2" stroke-width="0.4" stroke-linejoin="round"/>
<path d="M261.03,367.80 L260.65,371.00 L260.26,375.90 L259.30,384.50 L258.50,401.70 L258.10,419.00 L257.70,428.20 L264.70,428.20 L264.30,419.00 L263.90,401.70 L263.10,384.50 L262.13,375.90 L261.75,371.00 L261.37,367.80 Z" fill="#1d4e8a"/>
<rect x="261.54" y="380.50" width="1.0" height="1.0" fill="#9884d2"/>
<rect x="260.71" y="380.50" width="1.0" height="1.0" fill="#9884d2"/>
<rect x="260.85" y="382.10" width="1.0" height="1.0" fill="#9884d2"/>
<rect x="260.32" y="383.70" width="1.0" height="1.0" fill="#9884d2"/>
<rect x="259.79" y="386.90" width="1.0" height="1.0" fill="#9884d2"/>
<rect x="260.72" y="388.50" width="1.0" height="1.0" fill="#9884d2"/>
<rect x="259.88" y="391.70" width="1.0" height="1.0" fill="#9884d2"/>
<rect x="259.75" y="393.30" width="1.0" height="1.0" fill="#9884d2"/>
<rect x="259.81" y="393.30" width="1.0" height="1.0" fill="#9884d2"/>
<rect x="262.33" y="394.90" width="1.0" height="1.0" fill="#9884d2"/>
<rect x="260.17" y="396.50" width="1.0" height="1.0" fill="#9884d2"/>
<rect x="260.37" y="396.50" width="1.0" height="1.0" fill="#9884d2"/>
<rect x="261.14" y="398.10" width="1.0" height="1.0" fill="#9884d2"/>
<rect x="261.06" y="398.10" width="1.0" height="1.0" fill="#9884d2"/>
<rect x="258.41" y="399.70" width="1.0" height="1.0" fill="#9884d2"/>
<rect x="260.89" y="399.70" width="1.0" height="1.0" fill="#9884d2"/>
<rect x="258.71" y="401.30" width="1.0" height="1.0" fill="#9884d2"/>
<rect x="261.10" y="404.50" width="1.0" height="1.0" fill="#9884d2"/>
<rect x="261.24" y="404.50" width="1.0" height="1.0" fill="#9884d2"/>
<rect x="260.98" y="406.10" width="1.0" height="1.0" fill="#9884d2"/>
<rect x="259.54" y="406.10" width="1.0" height="1.0" fill="#9884d2"/>
<rect x="261.75" y="407.70" width="1.0" height="1.0" fill="#9884d2"/>
<rect x="261.28" y="409.30" width="1.0" height="1.0" fill="#9884d2"/>
<rect x="260.01" y="409.30" width="1.0" height="1.0" fill="#9884d2"/>
<rect x="259.89" y="412.50" width="1.0" height="1.0" fill="#9884d2"/>
<rect x="262.34" y="415.70" width="1.0" height="1.0" fill="#9884d2"/>
<rect x="260.34" y="415.70" width="1.0" height="1.0" fill="#9884d2"/>
<rect x="260.39" y="417.30" width="1.0" height="1.0" fill="#9884d2"/>
<rect x="258.42" y="417.30" width="1.0" height="1.0" fill="#9884d2"/>
<rect x="262.30" y="418.90" width="1.0" height="1.0" fill="#9884d2"/>
<rect x="262.28" y="418.90" width="1.0" height="1.0" fill="#9884d2"/>
<rect x="262.07" y="420.50" width="1.0" height="1.0" fill="#9884d2"/>
<rect x="263.38" y="420.50" width="1.0" height="1.0" fill="#9884d2"/>
<rect x="262.78" y="423.70" width="1.0" height="1.0" fill="#9884d2"/>
<rect x="257.98" y="423.70" width="1.0" height="1.0" fill="#9884d2"/>
<rect x="263.46" y="425.30" width="1.0" height="1.0" fill="#9884d2"/>
<rect x="257.98" y="425.30" width="1.0" height="1.0" fill="#9884d2"/>
<text x="309.10" y="269.80" font-size="11" fill="#000" font-weight="bold" textLength="7.80" lengthAdjust="spacingAndGlyphs" >D</text>
<text x="338.50" y="269.90" font-size="9.4" fill="#231f20" font-weight="bold" font-style="italic" textLength="22.50" lengthAdjust="spacingAndGlyphs" >TERT</text>
<text x="364.40" y="269.90" font-size="9.4" fill="#231f20" font-weight="bold" textLength="140.20" lengthAdjust="spacingAndGlyphs" >rare VAF by blood composition</text>
<line x1="345.30" y1="299.80" x2="345.30" y2="429.90" stroke="#231f20" stroke-width="1.25" />
<line x1="342.10" y1="300.40" x2="345.30" y2="300.40" stroke="#231f20" stroke-width="1.25" />
<text x="340.10" y="303.40" font-size="8.8" text-anchor="end" fill="#38383a" textLength="10.30" lengthAdjust="spacingAndGlyphs" >1.0</text>
<line x1="342.10" y1="364.85" x2="345.30" y2="364.85" stroke="#231f20" stroke-width="1.25" />
<text x="340.10" y="367.85" font-size="8.8" text-anchor="end" fill="#38383a" textLength="10.30" lengthAdjust="spacingAndGlyphs" >0.5</text>
<line x1="342.10" y1="429.30" x2="345.30" y2="429.30" stroke="#231f20" stroke-width="1.25" />
<text x="340.10" y="432.30" font-size="8.8" text-anchor="end" fill="#38383a" textLength="10.30" lengthAdjust="spacingAndGlyphs" >0.0</text>
<line x1="344.70" y1="429.30" x2="508.80" y2="429.30" stroke="#231f20" stroke-width="1.25" />
<line x1="345.20" y1="429.30" x2="345.20" y2="432.60" stroke="#231f20" stroke-width="1.1" />
<text x="345.20" y="441.00" font-size="8.8" text-anchor="middle" fill="#38383a" textLength="4.50" lengthAdjust="spacingAndGlyphs" >0</text>
<line x1="377.80" y1="429.30" x2="377.80" y2="432.60" stroke="#231f20" stroke-width="1.1" />
<text x="377.80" y="441.00" font-size="8.8" text-anchor="middle" fill="#38383a" textLength="9.00" lengthAdjust="spacingAndGlyphs" >20</text>
<line x1="410.40" y1="429.30" x2="410.40" y2="432.60" stroke="#231f20" stroke-width="1.1" />
<text x="410.40" y="441.00" font-size="8.8" text-anchor="middle" fill="#38383a" textLength="9.00" lengthAdjust="spacingAndGlyphs" >40</text>
<line x1="443.00" y1="429.30" x2="443.00" y2="432.60" stroke="#231f20" stroke-width="1.1" />
<text x="443.00" y="441.00" font-size="8.8" text-anchor="middle" fill="#38383a" textLength="9.00" lengthAdjust="spacingAndGlyphs" >60</text>
<line x1="475.60" y1="429.30" x2="475.60" y2="432.60" stroke="#231f20" stroke-width="1.1" />
<text x="475.60" y="441.00" font-size="8.8" text-anchor="middle" fill="#38383a" textLength="9.00" lengthAdjust="spacingAndGlyphs" >80</text>
<line x1="508.20" y1="429.30" x2="508.20" y2="432.60" stroke="#231f20" stroke-width="1.1" />
<text x="508.20" y="441.00" font-size="8.8" text-anchor="middle" fill="#38383a" textLength="13.60" lengthAdjust="spacingAndGlyphs" >100</text>
<text x="426.80" y="456.20" font-size="9.6" text-anchor="middle" fill="#38383a" textLength="106.50" lengthAdjust="spacingAndGlyphs" >Proportion of lymphoid cells (%)</text>
<text x="321.60" y="365.00" font-size="8.8" text-anchor="middle" fill="#38383a" textLength="90.00" lengthAdjust="spacingAndGlyphs" transform="rotate(-90 321.60 365.00)" >Variant allele fraction (VAF)</text>
<text x="375.00" y="326.80" font-size="8.6" fill="#38383a" textLength="22.90" lengthAdjust="spacingAndGlyphs" >Slope</text>
<text x="400.60" y="326.80" font-size="8.6" fill="#38383a" textLength="5.20" lengthAdjust="spacingAndGlyphs" >=</text>
<text x="408.60" y="326.80" font-size="8.6" fill="#38383a" textLength="27.40" lengthAdjust="spacingAndGlyphs" >-0.001,</text>
<text x="438.30" y="326.80" font-size="8.6" fill="#38383a" font-style="italic" textLength="7.00" lengthAdjust="spacingAndGlyphs" >P</text>
<text x="447.00" y="326.80" font-size="8.6" fill="#38383a" textLength="5.30" lengthAdjust="spacingAndGlyphs" >=</text>
<text x="454.10" y="326.80" font-size="8.6" fill="#38383a" textLength="17.20" lengthAdjust="spacingAndGlyphs" >0.39</text>
<line x1="355.80" y1="366.00" x2="496.00" y2="369.80" stroke="#111" stroke-width="1.2" />
<circle cx="355.50" cy="365.80" r="2.0" fill="#c8102e" />
<circle cx="360.80" cy="366.20" r="2.0" fill="#c8102e" />
<circle cx="364.20" cy="368.50" r="2.0" fill="#c8102e" />
<circle cx="372.70" cy="358.00" r="2.0" fill="#c8102e" />
<circle cx="372.70" cy="371.10" r="2.0" fill="#c8102e" />
<circle cx="370.80" cy="374.60" r="2.0" fill="#c8102e" />
<circle cx="379.20" cy="361.20" r="2.0" fill="#c8102e" />
<circle cx="381.00" cy="361.10" r="2.0" fill="#c8102e" />
<circle cx="380.80" cy="367.80" r="2.0" fill="#c8102e" />
<circle cx="379.20" cy="376.60" r="2.0" fill="#c8102e" />
<circle cx="387.30" cy="364.30" r="2.0" fill="#c8102e" />
<circle cx="392.40" cy="353.50" r="2.0" fill="#c8102e" />
<circle cx="393.90" cy="368.50" r="2.0" fill="#c8102e" />
<circle cx="398.80" cy="362.30" r="2.0" fill="#c8102e" />
<circle cx="402.20" cy="364.60" r="2.0" fill="#c8102e" />
<circle cx="405.80" cy="367.70" r="2.0" fill="#c8102e" />
<circle cx="410.40" cy="364.60" r="2.0" fill="#c8102e" />
<circle cx="417.00" cy="371.50" r="2.0" fill="#c8102e" />
<circle cx="425.50" cy="374.60" r="2.0" fill="#c8102e" />
<circle cx="440.20" cy="370.80" r="2.0" fill="#c8102e" />
<circle cx="440.20" cy="378.40" r="2.0" fill="#c8102e" />
<circle cx="445.10" cy="381.90" r="2.0" fill="#c8102e" />
<circle cx="448.50" cy="374.10" r="2.0" fill="#c8102e" />
<circle cx="451.70" cy="362.00" r="2.0" fill="#c8102e" />
<circle cx="456.70" cy="379.10" r="2.0" fill="#c8102e" />
<circle cx="465.00" cy="348.70" r="2.0" fill="#c8102e" />
<circle cx="469.80" cy="364.20" r="2.0" fill="#c8102e" />
<circle cx="479.70" cy="369.80" r="2.0" fill="#c8102e" />
<circle cx="489.60" cy="370.30" r="2.0" fill="#c8102e" />
<circle cx="494.70" cy="369.60" r="2.0" fill="#c8102e" />
</svg>
</body></html>
